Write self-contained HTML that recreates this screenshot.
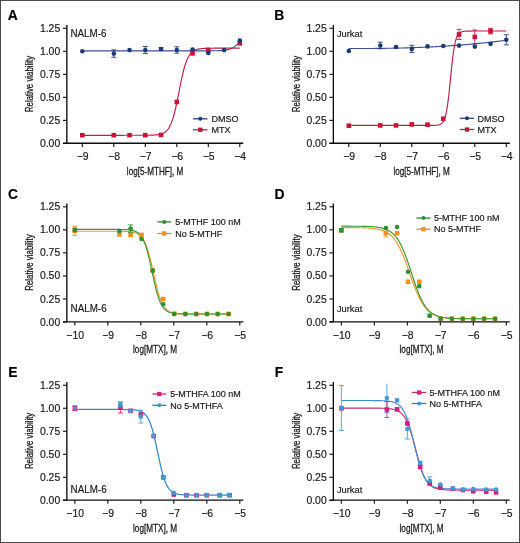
<!DOCTYPE html>
<html><head><meta charset="utf-8"><title>Figure</title>
<style>
html,body{margin:0;padding:0;background:#fff;}
body{width:520px;height:543px;overflow:hidden;}
svg{display:block;font-family:"Liberation Sans", sans-serif;-webkit-font-smoothing:antialiased;will-change:transform;}
text{stroke:#1a1a1a;stroke-width:0.18;}
.cond{stroke:#1a1a1a;stroke-width:0.28;}
</style></head>
<body>
<svg width="520" height="543" viewBox="0 0 520 543">
<rect x="0" y="0" width="520" height="543" fill="#fff"/>
<text x="7.80" y="19.90" font-size="13.9" font-weight="bold" fill="#000">A</text>
<path d="M66.85,24.98V143.40" stroke="#0d0d0d" stroke-width="1.35" fill="none"/>
<path d="M62.95,143.20H243.30" stroke="#0d0d0d" stroke-width="1.35" fill="none"/>
<path d="M62.95,143.40H66.85" stroke="#0d0d0d" stroke-width="1.1"/>
<text x="60.20" y="146.95" font-size="10.4" text-anchor="end" fill="#1a1a1a">0.00</text>
<path d="M62.95,120.38H66.85" stroke="#0d0d0d" stroke-width="1.1"/>
<text x="60.20" y="123.92" font-size="10.4" text-anchor="end" fill="#1a1a1a">0.25</text>
<path d="M62.95,97.35H66.85" stroke="#0d0d0d" stroke-width="1.1"/>
<text x="60.20" y="100.90" font-size="10.4" text-anchor="end" fill="#1a1a1a">0.50</text>
<path d="M62.95,74.33H66.85" stroke="#0d0d0d" stroke-width="1.1"/>
<text x="60.20" y="77.88" font-size="10.4" text-anchor="end" fill="#1a1a1a">0.75</text>
<path d="M62.95,51.30H66.85" stroke="#0d0d0d" stroke-width="1.1"/>
<text x="60.20" y="54.85" font-size="10.4" text-anchor="end" fill="#1a1a1a">1.00</text>
<path d="M62.95,28.28H66.85" stroke="#0d0d0d" stroke-width="1.1"/>
<text x="60.20" y="31.83" font-size="10.4" text-anchor="end" fill="#1a1a1a">1.25</text>
<path d="M82.30,143.40V146.90" stroke="#0d0d0d" stroke-width="1.1"/>
<text x="82.60" y="159.70" font-size="10.4" text-anchor="middle" fill="#1a1a1a">−9</text>
<path d="M113.80,143.40V146.90" stroke="#0d0d0d" stroke-width="1.1"/>
<text x="114.10" y="159.70" font-size="10.4" text-anchor="middle" fill="#1a1a1a">−8</text>
<path d="M145.30,143.40V146.90" stroke="#0d0d0d" stroke-width="1.1"/>
<text x="145.60" y="159.70" font-size="10.4" text-anchor="middle" fill="#1a1a1a">−7</text>
<path d="M176.80,143.40V146.90" stroke="#0d0d0d" stroke-width="1.1"/>
<text x="177.10" y="159.70" font-size="10.4" text-anchor="middle" fill="#1a1a1a">−6</text>
<path d="M208.30,143.40V146.90" stroke="#0d0d0d" stroke-width="1.1"/>
<text x="208.60" y="159.70" font-size="10.4" text-anchor="middle" fill="#1a1a1a">−5</text>
<path d="M239.80,143.40V146.90" stroke="#0d0d0d" stroke-width="1.1"/>
<text x="240.10" y="159.70" font-size="10.4" text-anchor="middle" fill="#1a1a1a">−4</text>
<text x="155.07" y="174.60" font-size="10.3" text-anchor="middle" textLength="56.4" lengthAdjust="spacingAndGlyphs" fill="#1a1a1a" class="cond">log[5-MTHF], M</text>
<text transform="translate(33.00,83.99) rotate(-90)" x="0" y="0" font-size="10.3" text-anchor="middle" textLength="56.3" lengthAdjust="spacingAndGlyphs" fill="#1a1a1a" class="cond">Relative viability</text>
<text x="70.40" y="37.20" font-size="10.4" fill="#1a1a1a" textLength="36.0" lengthAdjust="spacingAndGlyphs">NALM-6</text>
<polyline points="82.30,50.84 82.83,50.84 83.35,50.84 83.88,50.84 84.40,50.84 84.93,50.84 85.45,50.84 85.98,50.84 86.50,50.84 87.03,50.84 87.55,50.84 88.08,50.84 88.60,50.84 89.12,50.84 89.65,50.84 90.17,50.84 90.70,50.84 91.22,50.84 91.75,50.84 92.27,50.84 92.80,50.84 93.32,50.84 93.85,50.84 94.37,50.84 94.90,50.84 95.42,50.84 95.95,50.84 96.47,50.84 97.00,50.84 97.52,50.84 98.05,50.84 98.58,50.84 99.10,50.84 99.63,50.84 100.15,50.84 100.68,50.84 101.20,50.84 101.73,50.84 102.25,50.84 102.78,50.84 103.30,50.84 103.83,50.84 104.35,50.84 104.88,50.84 105.40,50.84 105.92,50.84 106.45,50.84 106.97,50.84 107.50,50.84 108.02,50.84 108.55,50.84 109.07,50.84 109.60,50.84 110.12,50.84 110.65,50.84 111.17,50.84 111.70,50.84 112.22,50.84 112.75,50.84 113.27,50.84 113.80,50.84 114.32,50.84 114.85,50.84 115.38,50.84 115.90,50.84 116.42,50.84 116.95,50.84 117.48,50.84 118.00,50.84 118.53,50.84 119.05,50.84 119.58,50.84 120.10,50.84 120.62,50.84 121.15,50.84 121.67,50.84 122.20,50.84 122.72,50.84 123.25,50.84 123.77,50.84 124.30,50.84 124.82,50.84 125.35,50.84 125.87,50.84 126.40,50.84 126.93,50.84 127.45,50.84 127.97,50.84 128.50,50.84 129.03,50.84 129.55,50.84 130.07,50.84 130.60,50.84 131.12,50.84 131.65,50.84 132.17,50.84 132.70,50.84 133.23,50.84 133.75,50.84 134.28,50.84 134.80,50.84 135.32,50.84 135.85,50.84 136.38,50.84 136.90,50.84 137.43,50.84 137.95,50.84 138.47,50.84 139.00,50.84 139.52,50.84 140.05,50.84 140.57,50.84 141.10,50.84 141.62,50.84 142.15,50.84 142.68,50.84 143.20,50.84 143.72,50.84 144.25,50.84 144.78,50.84 145.30,50.84 145.82,50.84 146.35,50.84 146.88,50.84 147.40,50.84 147.93,50.84 148.45,50.84 148.98,50.84 149.50,50.84 150.03,50.84 150.55,50.84 151.07,50.84 151.60,50.84 152.12,50.84 152.65,50.84 153.18,50.84 153.70,50.84 154.22,50.84 154.75,50.84 155.27,50.84 155.80,50.84 156.32,50.84 156.85,50.84 157.38,50.84 157.90,50.84 158.42,50.84 158.95,50.84 159.48,50.84 160.00,50.84 160.53,50.84 161.05,50.84 161.57,50.84 162.10,50.84 162.62,50.84 163.15,50.84 163.68,50.84 164.20,50.84 164.73,50.84 165.25,50.84 165.78,50.84 166.30,50.84 166.82,50.84 167.35,50.84 167.88,50.84 168.40,50.84 168.93,50.84 169.45,50.84 169.97,50.84 170.50,50.84 171.02,50.84 171.55,50.84 172.07,50.84 172.60,50.84 173.12,50.84 173.65,50.84 174.17,50.84 174.70,50.84 175.23,50.84 175.75,50.84 176.28,50.84 176.80,50.84 177.32,50.84 177.85,50.84 178.38,50.84 178.90,50.84 179.43,50.84 179.95,50.84 180.48,50.84 181.00,50.84 181.53,50.84 182.05,50.84 182.57,50.84 183.10,50.84 183.62,50.84 184.15,50.84 184.68,50.84 185.20,50.84 185.72,50.84 186.25,50.84 186.77,50.84 187.30,50.84 187.82,50.84 188.35,50.84 188.88,50.84 189.40,50.84 189.92,50.84 190.45,50.84 190.98,50.84 191.50,50.84 192.03,50.84 192.55,50.84 193.07,50.84 193.60,50.84 194.12,50.84 194.65,50.84 195.18,50.84 195.70,50.84 196.23,50.84 196.75,50.84 197.28,50.84 197.80,50.84 198.32,50.84 198.85,50.84 199.38,50.84 199.90,50.84 200.43,50.84 200.95,50.84 201.47,50.84 202.00,50.83 202.52,50.83 203.05,50.83 203.57,50.83 204.10,50.83 204.62,50.83 205.15,50.83 205.67,50.83 206.20,50.83 206.73,50.83 207.25,50.83 207.78,50.82 208.30,50.82 208.82,50.82 209.35,50.82 209.88,50.81 210.40,50.81 210.93,50.81 211.45,50.80 211.97,50.80 212.50,50.79 213.03,50.79 213.55,50.78 214.07,50.78 214.60,50.77 215.12,50.76 215.65,50.75 216.18,50.74 216.70,50.73 217.22,50.71 217.75,50.70 218.27,50.68 218.80,50.66 219.32,50.64 219.85,50.62 220.38,50.59 220.90,50.56 221.43,50.53 221.95,50.49 222.48,50.45 223.00,50.40 223.52,50.35 224.05,50.29 224.57,50.22 225.10,50.15 225.62,50.07 226.15,49.98 226.68,49.88 227.20,49.77 227.72,49.65 228.25,49.52 228.78,49.37 229.30,49.21 229.82,49.03 230.35,48.83 230.88,48.62 231.40,48.38 231.93,48.13 232.45,47.85 232.97,47.55 233.50,47.23 234.02,46.89 234.55,46.52 235.07,46.14 235.60,45.73 236.12,45.29 236.65,44.84 237.18,44.38 237.70,43.89 238.23,43.40 238.75,42.89 239.27,42.38 239.80,41.86" fill="none" stroke="#3d5293" stroke-width="1.15" stroke-linejoin="round"/>
<polyline points="82.30,135.30 82.83,135.30 83.35,135.30 83.88,135.30 84.40,135.30 84.93,135.30 85.45,135.30 85.98,135.30 86.50,135.30 87.03,135.30 87.55,135.30 88.08,135.30 88.60,135.30 89.12,135.30 89.65,135.30 90.17,135.30 90.70,135.30 91.22,135.30 91.75,135.30 92.27,135.30 92.80,135.30 93.32,135.30 93.85,135.30 94.37,135.30 94.90,135.30 95.42,135.30 95.95,135.30 96.47,135.30 97.00,135.30 97.52,135.30 98.05,135.30 98.58,135.30 99.10,135.30 99.63,135.30 100.15,135.30 100.68,135.30 101.20,135.30 101.73,135.30 102.25,135.30 102.78,135.30 103.30,135.30 103.83,135.30 104.35,135.30 104.88,135.30 105.40,135.30 105.92,135.30 106.45,135.30 106.97,135.30 107.50,135.30 108.02,135.30 108.55,135.30 109.07,135.30 109.60,135.30 110.12,135.30 110.65,135.30 111.17,135.30 111.70,135.30 112.22,135.30 112.75,135.30 113.27,135.30 113.80,135.30 114.32,135.30 114.85,135.30 115.38,135.30 115.90,135.30 116.42,135.30 116.95,135.30 117.48,135.30 118.00,135.30 118.53,135.30 119.05,135.30 119.58,135.30 120.10,135.30 120.62,135.30 121.15,135.30 121.67,135.30 122.20,135.30 122.72,135.30 123.25,135.30 123.77,135.29 124.30,135.29 124.82,135.29 125.35,135.29 125.87,135.29 126.40,135.29 126.93,135.29 127.45,135.29 127.97,135.29 128.50,135.29 129.03,135.29 129.55,135.29 130.07,135.29 130.60,135.29 131.12,135.29 131.65,135.29 132.17,135.29 132.70,135.29 133.23,135.29 133.75,135.29 134.28,135.29 134.80,135.29 135.32,135.29 135.85,135.29 136.38,135.29 136.90,135.29 137.43,135.29 137.95,135.29 138.47,135.29 139.00,135.29 139.52,135.29 140.05,135.29 140.57,135.28 141.10,135.28 141.62,135.28 142.15,135.28 142.68,135.28 143.20,135.28 143.72,135.27 144.25,135.27 144.78,135.27 145.30,135.26 145.82,135.26 146.35,135.25 146.88,135.25 147.40,135.24 147.93,135.23 148.45,135.23 148.98,135.22 149.50,135.21 150.03,135.20 150.55,135.18 151.07,135.17 151.60,135.15 152.12,135.13 152.65,135.11 153.18,135.09 153.70,135.06 154.22,135.03 154.75,135.00 155.27,134.96 155.80,134.91 156.32,134.86 156.85,134.81 157.38,134.75 157.90,134.67 158.42,134.59 158.95,134.50 159.48,134.40 160.00,134.28 160.53,134.15 161.05,134.01 161.57,133.84 162.10,133.66 162.62,133.45 163.15,133.21 163.68,132.95 164.20,132.65 164.73,132.31 165.25,131.94 165.78,131.52 166.30,131.05 166.82,130.53 167.35,129.94 167.88,129.29 168.40,128.57 168.93,127.76 169.45,126.87 169.97,125.89 170.50,124.81 171.02,123.63 171.55,122.33 172.07,120.91 172.60,119.38 173.12,117.72 173.65,115.93 174.17,114.02 174.70,111.98 175.23,109.83 175.75,107.56 176.28,105.19 176.80,102.72 177.32,100.18 177.85,97.58 178.38,94.94 178.90,92.27 179.43,89.59 179.95,86.94 180.48,84.32 181.00,81.75 181.53,79.25 182.05,76.84 182.57,74.53 183.10,72.33 183.62,70.24 184.15,68.28 184.68,66.45 185.20,64.73 185.72,63.15 186.25,61.69 186.77,60.34 187.30,59.11 187.82,57.99 188.35,56.97 188.88,56.05 189.40,55.21 189.92,54.45 190.45,53.77 190.98,53.16 191.50,52.62 192.03,52.13 192.55,51.69 193.07,51.29 193.60,50.94 194.12,50.63 194.65,50.36 195.18,50.11 195.70,49.89 196.23,49.69 196.75,49.52 197.28,49.37 197.80,49.23 198.32,49.11 198.85,49.00 199.38,48.91 199.90,48.82 200.43,48.75 200.95,48.68 201.47,48.62 202.00,48.57 202.52,48.52 203.05,48.48 203.57,48.45 204.10,48.41 204.62,48.39 205.15,48.36 205.67,48.34 206.20,48.32 206.73,48.30 207.25,48.29 207.78,48.27 208.30,48.26 208.82,48.25 209.35,48.24 209.88,48.23 210.40,48.22 210.93,48.22 211.45,48.21 211.97,48.21 212.50,48.20 213.03,48.20 213.55,48.20 214.07,48.19 214.60,48.19 215.12,48.19 215.65,48.19 216.18,48.18 216.70,48.18 217.22,48.18 217.75,48.18 218.27,48.18 218.80,48.18 219.32,48.18 219.85,48.17 220.38,48.17 220.90,48.17 221.43,48.17 221.95,48.17 222.48,48.17 223.00,48.17 223.52,48.17 224.05,48.17 224.57,48.17 225.10,48.17 225.62,48.17 226.15,48.17 226.68,48.17 227.20,48.17 227.72,48.17 228.25,48.17 228.78,48.17 229.30,48.17 229.82,48.17 230.35,48.17 230.88,48.17 231.40,48.17 231.93,48.17 232.45,48.17 232.97,48.17 233.50,48.17 234.02,48.17 234.55,48.17 235.07,48.17 235.60,48.17 236.12,48.17 236.65,48.17 237.18,48.17 237.70,48.17 238.23,48.17 238.75,48.17 239.27,48.17 239.80,48.17" fill="none" stroke="#bc1f45" stroke-width="1.15" stroke-linejoin="round"/>
<rect x="80.00" y="132.90" width="4.6" height="4.6" fill="#c8143a"/>
<rect x="111.50" y="132.90" width="4.6" height="4.6" fill="#c8143a"/>
<rect x="127.25" y="132.90" width="4.6" height="4.6" fill="#c8143a"/>
<rect x="143.00" y="132.90" width="4.6" height="4.6" fill="#c8143a"/>
<rect x="158.75" y="132.63" width="4.6" height="4.6" fill="#c8143a"/>
<rect x="174.50" y="99.66" width="4.6" height="4.6" fill="#c8143a"/>
<rect x="190.25" y="51.12" width="4.6" height="4.6" fill="#c8143a"/>
<rect x="206.00" y="47.62" width="4.6" height="4.6" fill="#c8143a"/>
<rect x="237.50" y="41.08" width="4.6" height="4.6" fill="#c8143a"/>
<circle cx="82.30" cy="51.30" r="2.3" fill="#1c3a72"/>
<path d="M113.80,57.29V49.92M111.30,57.29H116.30M111.30,49.92H116.30" stroke="#1c3a72" stroke-width="0.85" fill="none"/>
<circle cx="113.80" cy="53.60" r="2.3" fill="#1c3a72"/>
<circle cx="129.55" cy="50.10" r="2.3" fill="#1c3a72"/>
<path d="M145.30,53.51V46.51M142.80,53.51H147.80M142.80,46.51H147.80" stroke="#1c3a72" stroke-width="0.85" fill="none"/>
<circle cx="145.30" cy="50.01" r="2.3" fill="#1c3a72"/>
<path d="M161.05,50.38V47.62M158.55,50.38H163.55M158.55,47.62H163.55" stroke="#1c3a72" stroke-width="0.85" fill="none"/>
<circle cx="161.05" cy="49.00" r="2.3" fill="#1c3a72"/>
<path d="M176.80,53.23V46.79M174.30,53.23H179.30M174.30,46.79H179.30" stroke="#1c3a72" stroke-width="0.85" fill="none"/>
<circle cx="176.80" cy="50.01" r="2.3" fill="#1c3a72"/>
<circle cx="192.55" cy="49.46" r="2.3" fill="#1c3a72"/>
<circle cx="208.30" cy="52.96" r="2.3" fill="#1c3a72"/>
<circle cx="224.05" cy="50.10" r="2.3" fill="#1c3a72"/>
<circle cx="239.80" cy="40.62" r="2.3" fill="#1c3a72"/>
<path d="M193.10,118.80H207.50" stroke="#2a4580" stroke-width="1.3"/>
<circle cx="200.30" cy="118.80" r="2.0" fill="#1c3a72"/>
<text x="211.60" y="122.00" font-size="9" fill="#1a1a1a">DMSO</text>
<path d="M193.10,129.80H207.50" stroke="#bc1f45" stroke-width="1.3"/>
<rect x="198.15" y="127.65" width="4.3" height="4.3" fill="#c8143a"/>
<text x="211.60" y="133.00" font-size="9" fill="#1a1a1a">MTX</text>
<text x="274.30" y="19.90" font-size="13.9" font-weight="bold" fill="#000">B</text>
<path d="M333.35,24.98V143.40" stroke="#0d0d0d" stroke-width="1.35" fill="none"/>
<path d="M329.45,143.20H509.80" stroke="#0d0d0d" stroke-width="1.35" fill="none"/>
<path d="M329.45,143.40H333.35" stroke="#0d0d0d" stroke-width="1.1"/>
<text x="326.70" y="146.95" font-size="10.4" text-anchor="end" fill="#1a1a1a">0.00</text>
<path d="M329.45,120.38H333.35" stroke="#0d0d0d" stroke-width="1.1"/>
<text x="326.70" y="123.92" font-size="10.4" text-anchor="end" fill="#1a1a1a">0.25</text>
<path d="M329.45,97.35H333.35" stroke="#0d0d0d" stroke-width="1.1"/>
<text x="326.70" y="100.90" font-size="10.4" text-anchor="end" fill="#1a1a1a">0.50</text>
<path d="M329.45,74.33H333.35" stroke="#0d0d0d" stroke-width="1.1"/>
<text x="326.70" y="77.88" font-size="10.4" text-anchor="end" fill="#1a1a1a">0.75</text>
<path d="M329.45,51.30H333.35" stroke="#0d0d0d" stroke-width="1.1"/>
<text x="326.70" y="54.85" font-size="10.4" text-anchor="end" fill="#1a1a1a">1.00</text>
<path d="M329.45,28.28H333.35" stroke="#0d0d0d" stroke-width="1.1"/>
<text x="326.70" y="31.83" font-size="10.4" text-anchor="end" fill="#1a1a1a">1.25</text>
<path d="M348.80,143.40V146.90" stroke="#0d0d0d" stroke-width="1.1"/>
<text x="349.10" y="159.70" font-size="10.4" text-anchor="middle" fill="#1a1a1a">−9</text>
<path d="M380.30,143.40V146.90" stroke="#0d0d0d" stroke-width="1.1"/>
<text x="380.60" y="159.70" font-size="10.4" text-anchor="middle" fill="#1a1a1a">−8</text>
<path d="M411.80,143.40V146.90" stroke="#0d0d0d" stroke-width="1.1"/>
<text x="412.10" y="159.70" font-size="10.4" text-anchor="middle" fill="#1a1a1a">−7</text>
<path d="M443.30,143.40V146.90" stroke="#0d0d0d" stroke-width="1.1"/>
<text x="443.60" y="159.70" font-size="10.4" text-anchor="middle" fill="#1a1a1a">−6</text>
<path d="M474.80,143.40V146.90" stroke="#0d0d0d" stroke-width="1.1"/>
<text x="475.10" y="159.70" font-size="10.4" text-anchor="middle" fill="#1a1a1a">−5</text>
<path d="M506.30,143.40V146.90" stroke="#0d0d0d" stroke-width="1.1"/>
<text x="506.60" y="159.70" font-size="10.4" text-anchor="middle" fill="#1a1a1a">−4</text>
<text x="421.58" y="174.60" font-size="10.3" text-anchor="middle" textLength="56.4" lengthAdjust="spacingAndGlyphs" fill="#1a1a1a" class="cond">log[5-MTHF], M</text>
<text transform="translate(299.50,83.99) rotate(-90)" x="0" y="0" font-size="10.3" text-anchor="middle" textLength="56.3" lengthAdjust="spacingAndGlyphs" fill="#1a1a1a" class="cond">Relative viability</text>
<text x="336.90" y="37.00" font-size="9.9" fill="#1a1a1a" textLength="25.4" lengthAdjust="spacingAndGlyphs">Jurkat</text>
<polyline points="348.80,48.54 349.33,48.54 349.85,48.54 350.38,48.54 350.90,48.54 351.43,48.54 351.95,48.54 352.48,48.54 353.00,48.54 353.53,48.54 354.05,48.54 354.58,48.53 355.10,48.53 355.62,48.53 356.15,48.53 356.68,48.53 357.20,48.53 357.73,48.53 358.25,48.53 358.77,48.53 359.30,48.53 359.82,48.53 360.35,48.52 360.88,48.52 361.40,48.52 361.93,48.52 362.45,48.52 362.97,48.52 363.50,48.51 364.02,48.51 364.55,48.51 365.08,48.51 365.60,48.51 366.13,48.50 366.65,48.50 367.18,48.50 367.70,48.50 368.23,48.49 368.75,48.49 369.28,48.49 369.80,48.48 370.33,48.48 370.85,48.48 371.38,48.47 371.90,48.47 372.43,48.46 372.95,48.46 373.48,48.46 374.00,48.45 374.52,48.45 375.05,48.44 375.57,48.44 376.10,48.43 376.62,48.43 377.15,48.42 377.68,48.42 378.20,48.41 378.72,48.41 379.25,48.40 379.77,48.39 380.30,48.39 380.82,48.38 381.35,48.38 381.88,48.37 382.40,48.36 382.93,48.36 383.45,48.35 383.98,48.34 384.50,48.33 385.03,48.33 385.55,48.32 386.08,48.31 386.60,48.30 387.12,48.29 387.65,48.29 388.18,48.28 388.70,48.27 389.23,48.26 389.75,48.25 390.27,48.24 390.80,48.23 391.32,48.22 391.85,48.21 392.38,48.20 392.90,48.19 393.43,48.18 393.95,48.17 394.48,48.16 395.00,48.15 395.53,48.14 396.05,48.13 396.57,48.12 397.10,48.11 397.62,48.09 398.15,48.08 398.68,48.07 399.20,48.06 399.73,48.04 400.25,48.03 400.78,48.02 401.30,48.01 401.83,47.99 402.35,47.98 402.88,47.96 403.40,47.95 403.93,47.94 404.45,47.92 404.98,47.91 405.50,47.89 406.02,47.88 406.55,47.86 407.07,47.85 407.60,47.83 408.12,47.82 408.65,47.80 409.18,47.78 409.70,47.77 410.23,47.75 410.75,47.73 411.28,47.72 411.80,47.70 412.32,47.68 412.85,47.66 413.38,47.64 413.90,47.63 414.43,47.61 414.95,47.59 415.48,47.57 416.00,47.55 416.53,47.53 417.05,47.51 417.58,47.49 418.10,47.47 418.62,47.45 419.15,47.43 419.68,47.41 420.20,47.39 420.73,47.37 421.25,47.35 421.77,47.33 422.30,47.30 422.82,47.28 423.35,47.26 423.88,47.24 424.40,47.21 424.93,47.19 425.45,47.17 425.98,47.14 426.50,47.12 427.03,47.10 427.55,47.07 428.07,47.05 428.60,47.02 429.12,47.00 429.65,46.97 430.18,46.95 430.70,46.92 431.23,46.89 431.75,46.87 432.28,46.84 432.80,46.82 433.33,46.79 433.85,46.76 434.38,46.73 434.90,46.71 435.43,46.68 435.95,46.65 436.48,46.62 437.00,46.59 437.52,46.56 438.05,46.53 438.57,46.50 439.10,46.47 439.62,46.44 440.15,46.41 440.68,46.38 441.20,46.35 441.73,46.32 442.25,46.29 442.78,46.26 443.30,46.23 443.82,46.19 444.35,46.16 444.88,46.13 445.40,46.10 445.93,46.06 446.45,46.03 446.98,45.99 447.50,45.96 448.03,45.93 448.55,45.89 449.08,45.86 449.60,45.82 450.12,45.79 450.65,45.75 451.18,45.71 451.70,45.68 452.23,45.64 452.75,45.60 453.27,45.57 453.80,45.53 454.32,45.49 454.85,45.45 455.38,45.41 455.90,45.38 456.43,45.34 456.95,45.30 457.48,45.26 458.00,45.22 458.53,45.18 459.05,45.14 459.57,45.10 460.10,45.06 460.62,45.02 461.15,44.97 461.68,44.93 462.20,44.89 462.73,44.85 463.25,44.81 463.78,44.76 464.30,44.72 464.83,44.68 465.35,44.63 465.88,44.59 466.40,44.54 466.93,44.50 467.45,44.45 467.98,44.41 468.50,44.36 469.02,44.32 469.55,44.27 470.07,44.22 470.60,44.18 471.12,44.13 471.65,44.08 472.18,44.04 472.70,43.99 473.23,43.94 473.75,43.89 474.28,43.84 474.80,43.79 475.32,43.74 475.85,43.69 476.38,43.64 476.90,43.59 477.43,43.54 477.95,43.49 478.48,43.44 479.00,43.39 479.53,43.33 480.05,43.28 480.58,43.23 481.10,43.18 481.62,43.12 482.15,43.07 482.68,43.02 483.20,42.96 483.73,42.91 484.25,42.85 484.77,42.80 485.30,42.74 485.82,42.69 486.35,42.63 486.88,42.57 487.40,42.52 487.93,42.46 488.45,42.40 488.98,42.34 489.50,42.28 490.02,42.23 490.55,42.17 491.08,42.11 491.60,42.05 492.12,41.99 492.65,41.93 493.18,41.87 493.70,41.81 494.23,41.75 494.75,41.69 495.28,41.62 495.80,41.56 496.33,41.50 496.85,41.44 497.38,41.37 497.90,41.31 498.43,41.25 498.95,41.18 499.48,41.12 500.00,41.05 500.52,40.99 501.05,40.92 501.57,40.86 502.10,40.79 502.62,40.72 503.15,40.66 503.68,40.59 504.20,40.52 504.73,40.45 505.25,40.39 505.77,40.32 506.30,40.25" fill="none" stroke="#3d5293" stroke-width="1.15" stroke-linejoin="round"/>
<polyline points="348.80,125.44 349.33,125.44 349.85,125.44 350.38,125.44 350.90,125.44 351.43,125.44 351.95,125.44 352.48,125.44 353.00,125.44 353.53,125.44 354.05,125.44 354.58,125.44 355.10,125.44 355.62,125.44 356.15,125.44 356.68,125.44 357.20,125.44 357.73,125.44 358.25,125.44 358.77,125.44 359.30,125.44 359.82,125.44 360.35,125.44 360.88,125.44 361.40,125.44 361.93,125.44 362.45,125.44 362.97,125.44 363.50,125.44 364.02,125.44 364.55,125.44 365.08,125.44 365.60,125.44 366.13,125.44 366.65,125.44 367.18,125.44 367.70,125.44 368.23,125.44 368.75,125.44 369.28,125.44 369.80,125.44 370.33,125.44 370.85,125.44 371.38,125.44 371.90,125.44 372.43,125.44 372.95,125.44 373.48,125.44 374.00,125.44 374.52,125.44 375.05,125.44 375.57,125.44 376.10,125.44 376.62,125.44 377.15,125.44 377.68,125.44 378.20,125.44 378.72,125.44 379.25,125.44 379.77,125.44 380.30,125.44 380.82,125.44 381.35,125.44 381.88,125.44 382.40,125.44 382.93,125.44 383.45,125.44 383.98,125.44 384.50,125.44 385.03,125.44 385.55,125.44 386.08,125.44 386.60,125.44 387.12,125.44 387.65,125.44 388.18,125.44 388.70,125.44 389.23,125.44 389.75,125.44 390.27,125.44 390.80,125.44 391.32,125.44 391.85,125.44 392.38,125.44 392.90,125.44 393.43,125.44 393.95,125.44 394.48,125.44 395.00,125.44 395.53,125.44 396.05,125.44 396.57,125.44 397.10,125.44 397.62,125.44 398.15,125.44 398.68,125.44 399.20,125.44 399.73,125.44 400.25,125.44 400.78,125.44 401.30,125.44 401.83,125.44 402.35,125.44 402.88,125.44 403.40,125.44 403.93,125.44 404.45,125.44 404.98,125.44 405.50,125.44 406.02,125.44 406.55,125.44 407.07,125.44 407.60,125.44 408.12,125.44 408.65,125.44 409.18,125.44 409.70,125.44 410.23,125.44 410.75,125.44 411.28,125.44 411.80,125.44 412.32,125.44 412.85,125.44 413.38,125.44 413.90,125.44 414.43,125.44 414.95,125.44 415.48,125.44 416.00,125.44 416.53,125.44 417.05,125.44 417.58,125.44 418.10,125.44 418.62,125.44 419.15,125.44 419.68,125.44 420.20,125.44 420.73,125.44 421.25,125.44 421.77,125.44 422.30,125.44 422.82,125.44 423.35,125.44 423.88,125.44 424.40,125.44 424.93,125.44 425.45,125.44 425.98,125.44 426.50,125.44 427.03,125.44 427.55,125.44 428.07,125.43 428.60,125.43 429.12,125.43 429.65,125.43 430.18,125.43 430.70,125.42 431.23,125.42 431.75,125.41 432.28,125.40 432.80,125.40 433.33,125.38 433.85,125.37 434.38,125.35 434.90,125.33 435.43,125.30 435.95,125.27 436.48,125.22 437.00,125.17 437.52,125.10 438.05,125.01 438.57,124.90 439.10,124.77 439.62,124.60 440.15,124.39 440.68,124.12 441.20,123.79 441.73,123.38 442.25,122.87 442.78,122.24 443.30,121.47 443.82,120.51 444.35,119.34 444.88,117.91 445.40,116.18 445.93,114.11 446.45,111.65 446.98,108.77 447.50,105.43 448.03,101.63 448.55,97.38 449.08,92.72 449.60,87.73 450.12,82.50 450.65,77.17 451.18,71.87 451.70,66.72 452.23,61.85 452.75,57.35 453.27,53.27 453.80,49.66 454.32,46.50 454.85,43.79 455.38,41.49 455.90,39.57 456.43,37.97 456.95,36.64 457.48,35.56 458.00,34.68 458.53,33.97 459.05,33.39 459.57,32.92 460.10,32.55 460.62,32.24 461.15,32.00 461.68,31.81 462.20,31.65 462.73,31.53 463.25,31.43 463.78,31.35 464.30,31.29 464.83,31.24 465.35,31.20 465.88,31.16 466.40,31.14 466.93,31.12 467.45,31.10 467.98,31.09 468.50,31.08 469.02,31.07 469.55,31.06 470.07,31.06 470.60,31.05 471.12,31.05 471.65,31.05 472.18,31.05 472.70,31.04 473.23,31.04 473.75,31.04 474.28,31.04 474.80,31.04 475.32,31.04 475.85,31.04 476.38,31.04 476.90,31.04 477.43,31.04 477.95,31.04 478.48,31.04 479.00,31.04 479.53,31.04 480.05,31.04 480.58,31.04 481.10,31.04 481.62,31.04 482.15,31.04 482.68,31.04 483.20,31.04 483.73,31.04 484.25,31.04 484.77,31.04 485.30,31.04 485.82,31.04 486.35,31.04 486.88,31.04 487.40,31.04 487.93,31.04 488.45,31.04 488.98,31.04 489.50,31.04 490.02,31.04 490.55,31.04 491.08,31.04 491.60,31.04 492.12,31.04 492.65,31.04 493.18,31.04 493.70,31.04 494.23,31.04 494.75,31.04 495.28,31.04 495.80,31.04 496.33,31.04 496.85,31.04 497.38,31.04 497.90,31.04 498.43,31.04 498.95,31.04 499.48,31.04 500.00,31.04 500.52,31.04 501.05,31.04 501.57,31.04 502.10,31.04 502.62,31.04 503.15,31.04 503.68,31.04 504.20,31.04 504.73,31.04 505.25,31.04 505.77,31.04 506.30,31.04" fill="none" stroke="#bc1f45" stroke-width="1.15" stroke-linejoin="round"/>
<rect x="346.50" y="123.42" width="4.6" height="4.6" fill="#c8143a"/>
<rect x="378.00" y="123.14" width="4.6" height="4.6" fill="#c8143a"/>
<rect x="393.75" y="123.14" width="4.6" height="4.6" fill="#c8143a"/>
<rect x="409.50" y="122.13" width="4.6" height="4.6" fill="#c8143a"/>
<rect x="425.25" y="122.40" width="4.6" height="4.6" fill="#c8143a"/>
<rect x="441.00" y="116.42" width="4.6" height="4.6" fill="#c8143a"/>
<path d="M459.05,39.51V29.38M456.55,39.51H461.55M456.55,29.38H461.55" stroke="#c8143a" stroke-width="0.85" fill="none"/>
<rect x="456.75" y="32.15" width="4.6" height="4.6" fill="#c8143a"/>
<path d="M474.80,43.84V30.02M472.30,43.84H477.30M472.30,30.02H477.30" stroke="#c8143a" stroke-width="0.85" fill="none"/>
<rect x="472.50" y="34.63" width="4.6" height="4.6" fill="#c8143a"/>
<path d="M490.55,33.89V28.37M488.05,33.89H493.05M488.05,28.37H493.05" stroke="#c8143a" stroke-width="0.85" fill="none"/>
<rect x="488.25" y="28.83" width="4.6" height="4.6" fill="#c8143a"/>
<circle cx="348.80" cy="50.93" r="2.3" fill="#1c3a72"/>
<path d="M380.30,48.81V42.18M377.80,48.81H382.80M377.80,42.18H382.80" stroke="#1c3a72" stroke-width="0.85" fill="none"/>
<circle cx="380.30" cy="45.50" r="2.3" fill="#1c3a72"/>
<circle cx="396.05" cy="46.97" r="2.3" fill="#1c3a72"/>
<path d="M411.80,52.59V45.22M409.30,52.59H414.30M409.30,45.22H414.30" stroke="#1c3a72" stroke-width="0.85" fill="none"/>
<circle cx="411.80" cy="48.91" r="2.3" fill="#1c3a72"/>
<circle cx="427.55" cy="46.42" r="2.3" fill="#1c3a72"/>
<circle cx="443.30" cy="46.05" r="2.3" fill="#1c3a72"/>
<circle cx="459.05" cy="45.59" r="2.3" fill="#1c3a72"/>
<circle cx="474.80" cy="46.60" r="2.3" fill="#1c3a72"/>
<circle cx="490.55" cy="43.84" r="2.3" fill="#1c3a72"/>
<path d="M506.30,44.85V34.72M503.80,44.85H508.80M503.80,34.72H508.80" stroke="#1c3a72" stroke-width="0.85" fill="none"/>
<circle cx="506.30" cy="39.79" r="2.3" fill="#1c3a72"/>
<path d="M459.80,118.30H474.20" stroke="#2a4580" stroke-width="1.3"/>
<circle cx="467.00" cy="118.30" r="2.0" fill="#1c3a72"/>
<text x="477.50" y="121.50" font-size="9" fill="#1a1a1a">DMSO</text>
<path d="M459.80,129.50H474.20" stroke="#bc1f45" stroke-width="1.3"/>
<rect x="464.85" y="127.35" width="4.3" height="4.3" fill="#c8143a"/>
<text x="477.50" y="132.70" font-size="9" fill="#1a1a1a">MTX</text>
<text x="7.90" y="198.70" font-size="13.9" font-weight="bold" fill="#000">C</text>
<path d="M66.85,203.51V322.00" stroke="#0d0d0d" stroke-width="1.35" fill="none"/>
<path d="M62.95,321.80H243.30" stroke="#0d0d0d" stroke-width="1.35" fill="none"/>
<path d="M62.95,322.00H66.85" stroke="#0d0d0d" stroke-width="1.1"/>
<text x="60.20" y="325.55" font-size="10.4" text-anchor="end" fill="#1a1a1a">0.00</text>
<path d="M62.95,298.96H66.85" stroke="#0d0d0d" stroke-width="1.1"/>
<text x="60.20" y="302.51" font-size="10.4" text-anchor="end" fill="#1a1a1a">0.25</text>
<path d="M62.95,275.93H66.85" stroke="#0d0d0d" stroke-width="1.1"/>
<text x="60.20" y="279.48" font-size="10.4" text-anchor="end" fill="#1a1a1a">0.50</text>
<path d="M62.95,252.89H66.85" stroke="#0d0d0d" stroke-width="1.1"/>
<text x="60.20" y="256.44" font-size="10.4" text-anchor="end" fill="#1a1a1a">0.75</text>
<path d="M62.95,229.85H66.85" stroke="#0d0d0d" stroke-width="1.1"/>
<text x="60.20" y="233.40" font-size="10.4" text-anchor="end" fill="#1a1a1a">1.00</text>
<path d="M62.95,206.81H66.85" stroke="#0d0d0d" stroke-width="1.1"/>
<text x="60.20" y="210.36" font-size="10.4" text-anchor="end" fill="#1a1a1a">1.25</text>
<path d="M74.85,322.00V325.50" stroke="#0d0d0d" stroke-width="1.1"/>
<text x="75.15" y="338.80" font-size="10.4" text-anchor="middle" fill="#1a1a1a">−10</text>
<path d="M107.84,322.00V325.50" stroke="#0d0d0d" stroke-width="1.1"/>
<text x="108.14" y="338.80" font-size="10.4" text-anchor="middle" fill="#1a1a1a">−9</text>
<path d="M140.83,322.00V325.50" stroke="#0d0d0d" stroke-width="1.1"/>
<text x="141.13" y="338.80" font-size="10.4" text-anchor="middle" fill="#1a1a1a">−8</text>
<path d="M173.82,322.00V325.50" stroke="#0d0d0d" stroke-width="1.1"/>
<text x="174.12" y="338.80" font-size="10.4" text-anchor="middle" fill="#1a1a1a">−7</text>
<path d="M206.81,322.00V325.50" stroke="#0d0d0d" stroke-width="1.1"/>
<text x="207.11" y="338.80" font-size="10.4" text-anchor="middle" fill="#1a1a1a">−6</text>
<path d="M239.80,322.00V325.50" stroke="#0d0d0d" stroke-width="1.1"/>
<text x="240.10" y="338.80" font-size="10.4" text-anchor="middle" fill="#1a1a1a">−5</text>
<text x="155.07" y="353.30" font-size="10.3" text-anchor="middle" textLength="44.1" lengthAdjust="spacingAndGlyphs" fill="#1a1a1a" class="cond">log[MTX], M</text>
<text transform="translate(33.00,262.56) rotate(-90)" x="0" y="0" font-size="10.3" text-anchor="middle" textLength="56.3" lengthAdjust="spacingAndGlyphs" fill="#1a1a1a" class="cond">Relative viability</text>
<text x="70.60" y="311.60" font-size="10.4" fill="#1a1a1a" textLength="36.0" lengthAdjust="spacingAndGlyphs">NALM-6</text>
<polyline points="74.85,231.23 75.36,231.23 75.87,231.23 76.39,231.23 76.90,231.23 77.41,231.23 77.92,231.23 78.44,231.23 78.95,231.23 79.46,231.23 79.97,231.23 80.49,231.23 81.00,231.23 81.51,231.23 82.02,231.23 82.54,231.23 83.05,231.23 83.56,231.23 84.07,231.23 84.59,231.23 85.10,231.23 85.61,231.23 86.12,231.23 86.64,231.23 87.15,231.23 87.66,231.23 88.17,231.23 88.69,231.23 89.20,231.23 89.71,231.23 90.22,231.23 90.74,231.23 91.25,231.23 91.76,231.23 92.27,231.23 92.79,231.23 93.30,231.23 93.81,231.23 94.32,231.23 94.84,231.23 95.35,231.23 95.86,231.23 96.37,231.23 96.89,231.23 97.40,231.23 97.91,231.23 98.42,231.23 98.93,231.23 99.45,231.23 99.96,231.23 100.47,231.23 100.98,231.23 101.50,231.23 102.01,231.23 102.52,231.23 103.03,231.23 103.55,231.23 104.06,231.23 104.57,231.23 105.08,231.23 105.60,231.23 106.11,231.24 106.62,231.24 107.13,231.24 107.65,231.24 108.16,231.24 108.67,231.24 109.18,231.24 109.70,231.24 110.21,231.24 110.72,231.24 111.23,231.24 111.75,231.24 112.26,231.24 112.77,231.24 113.28,231.25 113.80,231.25 114.31,231.25 114.82,231.25 115.33,231.25 115.85,231.26 116.36,231.26 116.87,231.26 117.38,231.27 117.90,231.27 118.41,231.28 118.92,231.28 119.43,231.29 119.95,231.29 120.46,231.30 120.97,231.31 121.48,231.32 121.99,231.33 122.51,231.34 123.02,231.35 123.53,231.36 124.04,231.38 124.56,231.39 125.07,231.41 125.58,231.43 126.09,231.46 126.61,231.48 127.12,231.51 127.63,231.55 128.14,231.58 128.66,231.62 129.17,231.67 129.68,231.72 130.19,231.78 130.71,231.84 131.22,231.91 131.73,231.99 132.24,232.08 132.76,232.18 133.27,232.29 133.78,232.41 134.29,232.55 134.81,232.70 135.32,232.87 135.83,233.05 136.34,233.26 136.86,233.49 137.37,233.75 137.88,234.04 138.39,234.35 138.91,234.70 139.42,235.09 139.93,235.52 140.44,235.99 140.96,236.52 141.47,237.09 141.98,237.72 142.49,238.42 143.01,239.18 143.52,240.01 144.03,240.92 144.54,241.91 145.05,242.99 145.57,244.15 146.08,245.41 146.59,246.76 147.10,248.20 147.62,249.75 148.13,251.39 148.64,253.13 149.15,254.96 149.67,256.88 150.18,258.88 150.69,260.96 151.20,263.10 151.72,265.30 152.23,267.54 152.74,269.82 153.25,272.11 153.77,274.40 154.28,276.68 154.79,278.94 155.30,281.16 155.82,283.32 156.33,285.43 156.84,287.47 157.35,289.43 157.87,291.30 158.38,293.08 158.89,294.76 159.40,296.35 159.92,297.84 160.43,299.23 160.94,300.53 161.45,301.73 161.97,302.84 162.48,303.87 162.99,304.81 163.50,305.68 164.02,306.47 164.53,307.19 165.04,307.85 165.55,308.45 166.07,309.00 166.58,309.49 167.09,309.94 167.60,310.35 168.11,310.71 168.63,311.05 169.14,311.34 169.65,311.61 170.16,311.86 170.68,312.07 171.19,312.27 171.70,312.45 172.21,312.60 172.73,312.75 173.24,312.88 173.75,312.99 174.26,313.09 174.78,313.19 175.29,313.27 175.80,313.34 176.31,313.41 176.83,313.47 177.34,313.52 177.85,313.57 178.36,313.61 178.88,313.65 179.39,313.69 179.90,313.72 180.41,313.75 180.93,313.77 181.44,313.79 181.95,313.81 182.46,313.83 182.98,313.85 183.49,313.86 184.00,313.87 184.51,313.89 185.03,313.90 185.54,313.90 186.05,313.91 186.56,313.92 187.08,313.93 187.59,313.93 188.10,313.94 188.61,313.94 189.13,313.95 189.64,313.95 190.15,313.95 190.66,313.96 191.17,313.96 191.69,313.96 192.20,313.96 192.71,313.97 193.22,313.97 193.74,313.97 194.25,313.97 194.76,313.97 195.27,313.97 195.79,313.97 196.30,313.98 196.81,313.98 197.32,313.98 197.84,313.98 198.35,313.98 198.86,313.98 199.37,313.98 199.89,313.98 200.40,313.98 200.91,313.98 201.42,313.98 201.94,313.98 202.45,313.98 202.96,313.98 203.47,313.98 203.99,313.98 204.50,313.98 205.01,313.98 205.52,313.98 206.04,313.98 206.55,313.98 207.06,313.98 207.57,313.98 208.09,313.98 208.60,313.98 209.11,313.98 209.62,313.98 210.14,313.98 210.65,313.98 211.16,313.98 211.67,313.98 212.19,313.98 212.70,313.98 213.21,313.98 213.72,313.98 214.23,313.98 214.75,313.98 215.26,313.98 215.77,313.98 216.28,313.98 216.80,313.98 217.31,313.98 217.82,313.98 218.33,313.98 218.85,313.98 219.36,313.98 219.87,313.98 220.38,313.98 220.90,313.98 221.41,313.98 221.92,313.98 222.43,313.98 222.95,313.98 223.46,313.98 223.97,313.98 224.48,313.98 225.00,313.98 225.51,313.98 226.02,313.98 226.53,313.98 227.05,313.98 227.56,313.98 228.07,313.98 228.58,313.98" fill="none" stroke="#ec9a2a" stroke-width="1.15" stroke-linejoin="round"/>
<polyline points="74.85,229.39 75.36,229.39 75.87,229.39 76.39,229.39 76.90,229.39 77.41,229.39 77.92,229.39 78.44,229.39 78.95,229.39 79.46,229.39 79.97,229.39 80.49,229.39 81.00,229.39 81.51,229.39 82.02,229.39 82.54,229.39 83.05,229.39 83.56,229.39 84.07,229.39 84.59,229.39 85.10,229.39 85.61,229.39 86.12,229.39 86.64,229.39 87.15,229.39 87.66,229.39 88.17,229.39 88.69,229.39 89.20,229.39 89.71,229.39 90.22,229.39 90.74,229.39 91.25,229.39 91.76,229.39 92.27,229.39 92.79,229.39 93.30,229.39 93.81,229.39 94.32,229.39 94.84,229.39 95.35,229.39 95.86,229.39 96.37,229.39 96.89,229.39 97.40,229.39 97.91,229.39 98.42,229.39 98.93,229.39 99.45,229.39 99.96,229.39 100.47,229.39 100.98,229.39 101.50,229.39 102.01,229.39 102.52,229.39 103.03,229.39 103.55,229.39 104.06,229.39 104.57,229.39 105.08,229.39 105.60,229.39 106.11,229.39 106.62,229.39 107.13,229.39 107.65,229.39 108.16,229.39 108.67,229.39 109.18,229.40 109.70,229.40 110.21,229.40 110.72,229.40 111.23,229.40 111.75,229.40 112.26,229.40 112.77,229.40 113.28,229.40 113.80,229.41 114.31,229.41 114.82,229.41 115.33,229.41 115.85,229.42 116.36,229.42 116.87,229.42 117.38,229.43 117.90,229.43 118.41,229.44 118.92,229.44 119.43,229.45 119.95,229.45 120.46,229.46 120.97,229.47 121.48,229.48 121.99,229.49 122.51,229.50 123.02,229.52 123.53,229.53 124.04,229.55 124.56,229.57 125.07,229.59 125.58,229.62 126.09,229.65 126.61,229.68 127.12,229.71 127.63,229.75 128.14,229.79 128.66,229.84 129.17,229.90 129.68,229.96 130.19,230.03 130.71,230.10 131.22,230.19 131.73,230.28 132.24,230.39 132.76,230.51 133.27,230.65 133.78,230.80 134.29,230.96 134.81,231.15 135.32,231.36 135.83,231.59 136.34,231.85 136.86,232.14 137.37,232.46 137.88,232.82 138.39,233.22 138.91,233.66 139.42,234.15 139.93,234.69 140.44,235.28 140.96,235.94 141.47,236.67 141.98,237.47 142.49,238.34 143.01,239.30 143.52,240.35 144.03,241.49 144.54,242.72 145.05,244.06 145.57,245.50 146.08,247.05 146.59,248.70 147.10,250.46 147.62,252.32 148.13,254.28 148.64,256.34 149.15,258.48 149.67,260.70 150.18,262.99 150.69,265.34 151.20,267.72 151.72,270.13 152.23,272.55 152.74,274.96 153.25,277.36 153.77,279.71 154.28,282.02 154.79,284.26 155.30,286.43 155.82,288.51 156.33,290.50 156.84,292.39 157.35,294.18 157.87,295.86 158.38,297.44 158.89,298.91 159.40,300.28 159.92,301.54 160.43,302.71 160.94,303.78 161.45,304.76 161.97,305.66 162.48,306.48 162.99,307.23 163.50,307.91 164.02,308.52 164.53,309.08 165.04,309.58 165.55,310.03 166.07,310.44 166.58,310.81 167.09,311.14 167.60,311.44 168.11,311.71 168.63,311.95 169.14,312.16 169.65,312.36 170.16,312.53 170.68,312.68 171.19,312.82 171.70,312.95 172.21,313.06 172.73,313.16 173.24,313.25 173.75,313.32 174.26,313.40 174.78,313.46 175.29,313.51 175.80,313.57 176.31,313.61 176.83,313.65 177.34,313.69 177.85,313.72 178.36,313.75 178.88,313.77 179.39,313.79 179.90,313.82 180.41,313.83 180.93,313.85 181.44,313.86 181.95,313.88 182.46,313.89 182.98,313.90 183.49,313.91 184.00,313.92 184.51,313.92 185.03,313.93 185.54,313.94 186.05,313.94 186.56,313.95 187.08,313.95 187.59,313.95 188.10,313.96 188.61,313.96 189.13,313.96 189.64,313.96 190.15,313.97 190.66,313.97 191.17,313.97 191.69,313.97 192.20,313.97 192.71,313.97 193.22,313.97 193.74,313.98 194.25,313.98 194.76,313.98 195.27,313.98 195.79,313.98 196.30,313.98 196.81,313.98 197.32,313.98 197.84,313.98 198.35,313.98 198.86,313.98 199.37,313.98 199.89,313.98 200.40,313.98 200.91,313.98 201.42,313.98 201.94,313.98 202.45,313.98 202.96,313.98 203.47,313.98 203.99,313.98 204.50,313.98 205.01,313.98 205.52,313.98 206.04,313.98 206.55,313.98 207.06,313.98 207.57,313.98 208.09,313.98 208.60,313.98 209.11,313.98 209.62,313.98 210.14,313.98 210.65,313.98 211.16,313.98 211.67,313.98 212.19,313.98 212.70,313.98 213.21,313.98 213.72,313.98 214.23,313.98 214.75,313.98 215.26,313.98 215.77,313.98 216.28,313.98 216.80,313.98 217.31,313.98 217.82,313.98 218.33,313.98 218.85,313.98 219.36,313.98 219.87,313.98 220.38,313.98 220.90,313.98 221.41,313.98 221.92,313.98 222.43,313.98 222.95,313.98 223.46,313.98 223.97,313.98 224.48,313.98 225.00,313.98 225.51,313.98 226.02,313.98 226.53,313.98 227.05,313.98 227.56,313.98 228.07,313.98 228.58,313.98" fill="none" stroke="#3e9637" stroke-width="1.15" stroke-linejoin="round"/>
<path d="M74.85,235.38V226.16M72.35,235.38H77.35M72.35,226.16H77.35" stroke="#f0921c" stroke-width="0.85" fill="none"/>
<rect x="72.55" y="228.47" width="4.6" height="4.6" fill="#f0921c"/>
<rect x="117.09" y="232.07" width="4.6" height="4.6" fill="#f0921c"/>
<path d="M130.60,236.58V232.89M128.10,236.58H133.10M128.10,232.89H133.10" stroke="#f0921c" stroke-width="0.85" fill="none"/>
<rect x="128.30" y="232.43" width="4.6" height="4.6" fill="#f0921c"/>
<path d="M141.49,236.95V233.26M138.99,236.95H143.99M138.99,233.26H143.99" stroke="#f0921c" stroke-width="0.85" fill="none"/>
<rect x="139.19" y="232.80" width="4.6" height="4.6" fill="#f0921c"/>
<rect x="150.41" y="268.10" width="4.6" height="4.6" fill="#f0921c"/>
<rect x="160.96" y="296.75" width="4.6" height="4.6" fill="#f0921c"/>
<rect x="171.85" y="311.41" width="4.6" height="4.6" fill="#f0921c"/>
<rect x="183.07" y="311.68" width="4.6" height="4.6" fill="#f0921c"/>
<rect x="193.95" y="311.68" width="4.6" height="4.6" fill="#f0921c"/>
<rect x="204.67" y="311.68" width="4.6" height="4.6" fill="#f0921c"/>
<rect x="215.40" y="311.68" width="4.6" height="4.6" fill="#f0921c"/>
<rect x="226.28" y="311.68" width="4.6" height="4.6" fill="#f0921c"/>
<rect x="72.55" y="227.55" width="4.6" height="4.6" fill="#2e8f36"/>
<circle cx="119.39" cy="230.86" r="2.3" fill="#2e8f36"/>
<path d="M130.60,232.25V224.87M128.10,232.25H133.10M128.10,224.87H133.10" stroke="#2e8f36" stroke-width="0.85" fill="none"/>
<circle cx="130.60" cy="228.56" r="2.3" fill="#2e8f36"/>
<circle cx="141.49" cy="239.06" r="2.3" fill="#2e8f36"/>
<circle cx="152.71" cy="270.67" r="2.3" fill="#2e8f36"/>
<circle cx="163.26" cy="304.31" r="2.3" fill="#2e8f36"/>
<circle cx="174.15" cy="314.08" r="2.3" fill="#2e8f36"/>
<circle cx="185.37" cy="313.98" r="2.3" fill="#2e8f36"/>
<circle cx="196.25" cy="313.98" r="2.3" fill="#2e8f36"/>
<circle cx="206.97" cy="313.98" r="2.3" fill="#2e8f36"/>
<circle cx="217.70" cy="313.98" r="2.3" fill="#2e8f36"/>
<circle cx="228.58" cy="313.98" r="2.3" fill="#2e8f36"/>
<path d="M157.30,221.90H171.20" stroke="#3a7e3a" stroke-width="1.3"/>
<circle cx="164.25" cy="221.90" r="2.0" fill="#2e8f36"/>
<text x="175.20" y="225.10" font-size="9.0" fill="#1a1a1a">5-MTHF 100 nM</text>
<path d="M157.30,233.50H171.20" stroke="#d98a2c" stroke-width="1.3"/>
<rect x="162.10" y="231.35" width="4.3" height="4.3" fill="#f0921c"/>
<text x="175.20" y="236.70" font-size="9.0" fill="#1a1a1a">No 5-MTHF</text>
<text x="274.40" y="198.70" font-size="13.9" font-weight="bold" fill="#000">D</text>
<path d="M333.35,203.51V322.00" stroke="#0d0d0d" stroke-width="1.35" fill="none"/>
<path d="M329.45,321.80H509.80" stroke="#0d0d0d" stroke-width="1.35" fill="none"/>
<path d="M329.45,322.00H333.35" stroke="#0d0d0d" stroke-width="1.1"/>
<text x="326.70" y="325.55" font-size="10.4" text-anchor="end" fill="#1a1a1a">0.00</text>
<path d="M329.45,298.96H333.35" stroke="#0d0d0d" stroke-width="1.1"/>
<text x="326.70" y="302.51" font-size="10.4" text-anchor="end" fill="#1a1a1a">0.25</text>
<path d="M329.45,275.93H333.35" stroke="#0d0d0d" stroke-width="1.1"/>
<text x="326.70" y="279.48" font-size="10.4" text-anchor="end" fill="#1a1a1a">0.50</text>
<path d="M329.45,252.89H333.35" stroke="#0d0d0d" stroke-width="1.1"/>
<text x="326.70" y="256.44" font-size="10.4" text-anchor="end" fill="#1a1a1a">0.75</text>
<path d="M329.45,229.85H333.35" stroke="#0d0d0d" stroke-width="1.1"/>
<text x="326.70" y="233.40" font-size="10.4" text-anchor="end" fill="#1a1a1a">1.00</text>
<path d="M329.45,206.81H333.35" stroke="#0d0d0d" stroke-width="1.1"/>
<text x="326.70" y="210.36" font-size="10.4" text-anchor="end" fill="#1a1a1a">1.25</text>
<path d="M341.35,322.00V325.50" stroke="#0d0d0d" stroke-width="1.1"/>
<text x="341.65" y="338.80" font-size="10.4" text-anchor="middle" fill="#1a1a1a">−10</text>
<path d="M374.34,322.00V325.50" stroke="#0d0d0d" stroke-width="1.1"/>
<text x="374.64" y="338.80" font-size="10.4" text-anchor="middle" fill="#1a1a1a">−9</text>
<path d="M407.33,322.00V325.50" stroke="#0d0d0d" stroke-width="1.1"/>
<text x="407.63" y="338.80" font-size="10.4" text-anchor="middle" fill="#1a1a1a">−8</text>
<path d="M440.32,322.00V325.50" stroke="#0d0d0d" stroke-width="1.1"/>
<text x="440.62" y="338.80" font-size="10.4" text-anchor="middle" fill="#1a1a1a">−7</text>
<path d="M473.31,322.00V325.50" stroke="#0d0d0d" stroke-width="1.1"/>
<text x="473.61" y="338.80" font-size="10.4" text-anchor="middle" fill="#1a1a1a">−6</text>
<path d="M506.30,322.00V325.50" stroke="#0d0d0d" stroke-width="1.1"/>
<text x="506.60" y="338.80" font-size="10.4" text-anchor="middle" fill="#1a1a1a">−5</text>
<text x="421.58" y="353.30" font-size="10.3" text-anchor="middle" textLength="44.1" lengthAdjust="spacingAndGlyphs" fill="#1a1a1a" class="cond">log[MTX], M</text>
<text transform="translate(299.50,262.56) rotate(-90)" x="0" y="0" font-size="10.3" text-anchor="middle" textLength="56.3" lengthAdjust="spacingAndGlyphs" fill="#1a1a1a" class="cond">Relative viability</text>
<text x="336.90" y="312.20" font-size="9.9" fill="#1a1a1a" textLength="25.4" lengthAdjust="spacingAndGlyphs">Jurkat</text>
<polyline points="341.35,227.56 341.86,227.56 342.37,227.57 342.89,227.57 343.40,227.57 343.91,227.57 344.42,227.57 344.94,227.57 345.45,227.57 345.96,227.58 346.47,227.58 346.99,227.58 347.50,227.58 348.01,227.59 348.52,227.59 349.04,227.59 349.55,227.59 350.06,227.60 350.57,227.60 351.09,227.60 351.60,227.61 352.11,227.61 352.62,227.62 353.14,227.62 353.65,227.63 354.16,227.63 354.67,227.64 355.19,227.64 355.70,227.65 356.21,227.66 356.72,227.66 357.24,227.67 357.75,227.68 358.26,227.69 358.77,227.70 359.29,227.71 359.80,227.72 360.31,227.73 360.82,227.74 361.34,227.76 361.85,227.77 362.36,227.79 362.87,227.80 363.39,227.82 363.90,227.84 364.41,227.86 364.92,227.88 365.43,227.90 365.95,227.92 366.46,227.95 366.97,227.97 367.48,228.00 368.00,228.03 368.51,228.06 369.02,228.10 369.53,228.13 370.05,228.17 370.56,228.21 371.07,228.26 371.58,228.31 372.10,228.36 372.61,228.41 373.12,228.47 373.63,228.53 374.15,228.59 374.66,228.66 375.17,228.73 375.68,228.81 376.20,228.89 376.71,228.98 377.22,229.07 377.73,229.17 378.25,229.28 378.76,229.39 379.27,229.51 379.78,229.64 380.30,229.78 380.81,229.92 381.32,230.07 381.83,230.24 382.35,230.41 382.86,230.60 383.37,230.79 383.88,231.00 384.40,231.22 384.91,231.45 385.42,231.70 385.93,231.96 386.45,232.24 386.96,232.54 387.47,232.85 387.98,233.18 388.49,233.53 389.01,233.90 389.52,234.29 390.03,234.71 390.54,235.14 391.06,235.60 391.57,236.09 392.08,236.60 392.59,237.14 393.11,237.70 393.62,238.30 394.13,238.93 394.64,239.58 395.16,240.27 395.67,240.99 396.18,241.75 396.69,242.54 397.21,243.36 397.72,244.22 398.23,245.12 398.74,246.05 399.26,247.02 399.77,248.02 400.28,249.06 400.79,250.14 401.31,251.25 401.82,252.40 402.33,253.58 402.84,254.79 403.36,256.04 403.87,257.31 404.38,258.62 404.89,259.95 405.41,261.31 405.92,262.69 406.43,264.09 406.94,265.51 407.46,266.94 407.97,268.39 408.48,269.85 408.99,271.31 409.51,272.78 410.02,274.24 410.53,275.71 411.04,277.17 411.55,278.62 412.07,280.06 412.58,281.49 413.09,282.90 413.60,284.29 414.12,285.66 414.63,287.01 415.14,288.33 415.65,289.62 416.17,290.88 416.68,292.11 417.19,293.31 417.70,294.48 418.22,295.61 418.73,296.70 419.24,297.76 419.75,298.78 420.27,299.77 420.78,300.72 421.29,301.64 421.80,302.51 422.32,303.36 422.83,304.16 423.34,304.94 423.85,305.68 424.37,306.38 424.88,307.05 425.39,307.70 425.90,308.31 426.42,308.89 426.93,309.44 427.44,309.97 427.95,310.47 428.47,310.94 428.98,311.39 429.49,311.82 430.00,312.22 430.52,312.60 431.03,312.96 431.54,313.30 432.05,313.62 432.57,313.93 433.08,314.21 433.59,314.49 434.10,314.74 434.61,314.98 435.13,315.21 435.64,315.42 436.15,315.63 436.66,315.82 437.18,315.99 437.69,316.16 438.20,316.32 438.71,316.47 439.23,316.61 439.74,316.74 440.25,316.87 440.76,316.98 441.28,317.09 441.79,317.20 442.30,317.29 442.81,317.38 443.33,317.47 443.84,317.55 444.35,317.62 444.86,317.70 445.38,317.76 445.89,317.82 446.40,317.88 446.91,317.94 447.43,317.99 447.94,318.04 448.45,318.08 448.96,318.13 449.48,318.17 449.99,318.20 450.50,318.24 451.01,318.27 451.53,318.30 452.04,318.33 452.55,318.36 453.06,318.39 453.58,318.41 454.09,318.43 454.60,318.45 455.11,318.47 455.63,318.49 456.14,318.51 456.65,318.53 457.16,318.54 457.67,318.56 458.19,318.57 458.70,318.58 459.21,318.60 459.72,318.61 460.24,318.62 460.75,318.63 461.26,318.64 461.77,318.64 462.29,318.65 462.80,318.66 463.31,318.67 463.82,318.67 464.34,318.68 464.85,318.69 465.36,318.69 465.87,318.70 466.39,318.70 466.90,318.71 467.41,318.71 467.92,318.71 468.44,318.72 468.95,318.72 469.46,318.73 469.97,318.73 470.49,318.73 471.00,318.73 471.51,318.74 472.02,318.74 472.54,318.74 473.05,318.74 473.56,318.75 474.07,318.75 474.59,318.75 475.10,318.75 475.61,318.75 476.12,318.75 476.64,318.75 477.15,318.76 477.66,318.76 478.17,318.76 478.69,318.76 479.20,318.76 479.71,318.76 480.22,318.76 480.73,318.76 481.25,318.76 481.76,318.76 482.27,318.76 482.78,318.77 483.30,318.77 483.81,318.77 484.32,318.77 484.83,318.77 485.35,318.77 485.86,318.77 486.37,318.77 486.88,318.77 487.40,318.77 487.91,318.77 488.42,318.77 488.93,318.77 489.45,318.77 489.96,318.77 490.47,318.77 490.98,318.77 491.50,318.77 492.01,318.77 492.52,318.77 493.03,318.77 493.55,318.77 494.06,318.77 494.57,318.77 495.08,318.77" fill="none" stroke="#ec9a2a" stroke-width="1.15" stroke-linejoin="round"/>
<polyline points="341.35,226.17 341.86,226.17 342.37,226.17 342.89,226.17 343.40,226.18 343.91,226.18 344.42,226.18 344.94,226.18 345.45,226.18 345.96,226.18 346.47,226.18 346.99,226.18 347.50,226.18 348.01,226.19 348.52,226.19 349.04,226.19 349.55,226.19 350.06,226.19 350.57,226.19 351.09,226.20 351.60,226.20 352.11,226.20 352.62,226.20 353.14,226.21 353.65,226.21 354.16,226.21 354.67,226.21 355.19,226.22 355.70,226.22 356.21,226.23 356.72,226.23 357.24,226.24 357.75,226.24 358.26,226.25 358.77,226.25 359.29,226.26 359.80,226.26 360.31,226.27 360.82,226.28 361.34,226.29 361.85,226.30 362.36,226.30 362.87,226.31 363.39,226.33 363.90,226.34 364.41,226.35 364.92,226.36 365.43,226.38 365.95,226.39 366.46,226.41 366.97,226.42 367.48,226.44 368.00,226.46 368.51,226.48 369.02,226.50 369.53,226.53 370.05,226.55 370.56,226.58 371.07,226.61 371.58,226.64 372.10,226.67 372.61,226.71 373.12,226.75 373.63,226.79 374.15,226.83 374.66,226.88 375.17,226.93 375.68,226.98 376.20,227.04 376.71,227.10 377.22,227.16 377.73,227.23 378.25,227.31 378.76,227.39 379.27,227.47 379.78,227.56 380.30,227.66 380.81,227.76 381.32,227.87 381.83,227.99 382.35,228.12 382.86,228.25 383.37,228.39 383.88,228.55 384.40,228.71 384.91,228.88 385.42,229.07 385.93,229.27 386.45,229.48 386.96,229.70 387.47,229.94 387.98,230.19 388.49,230.46 389.01,230.75 389.52,231.05 390.03,231.38 390.54,231.72 391.06,232.09 391.57,232.48 392.08,232.89 392.59,233.33 393.11,233.79 393.62,234.28 394.13,234.79 394.64,235.34 395.16,235.92 395.67,236.53 396.18,237.17 396.69,237.85 397.21,238.56 397.72,239.31 398.23,240.09 398.74,240.91 399.26,241.78 399.77,242.68 400.28,243.62 400.79,244.60 401.31,245.63 401.82,246.69 402.33,247.80 402.84,248.95 403.36,250.14 403.87,251.36 404.38,252.63 404.89,253.93 405.41,255.27 405.92,256.64 406.43,258.05 406.94,259.48 407.46,260.95 407.97,262.43 408.48,263.94 408.99,265.47 409.51,267.02 410.02,268.58 410.53,270.14 411.04,271.71 411.55,273.29 412.07,274.86 412.58,276.42 413.09,277.98 413.60,279.52 414.12,281.05 414.63,282.56 415.14,284.05 415.65,285.51 416.17,286.95 416.68,288.35 417.19,289.72 417.70,291.06 418.22,292.36 418.73,293.62 419.24,294.85 419.75,296.04 420.27,297.18 420.78,298.29 421.29,299.35 421.80,300.37 422.32,301.35 422.83,302.30 423.34,303.20 423.85,304.06 424.37,304.88 424.88,305.66 425.39,306.41 425.90,307.12 426.42,307.79 426.93,308.43 427.44,309.04 427.95,309.62 428.47,310.16 428.98,310.68 429.49,311.17 430.00,311.63 430.52,312.07 431.03,312.48 431.54,312.86 432.05,313.23 432.57,313.57 433.08,313.90 433.59,314.20 434.10,314.49 434.61,314.76 435.13,315.01 435.64,315.25 436.15,315.47 436.66,315.68 437.18,315.88 437.69,316.06 438.20,316.24 438.71,316.40 439.23,316.55 439.74,316.69 440.25,316.83 440.76,316.95 441.28,317.07 441.79,317.18 442.30,317.28 442.81,317.38 443.33,317.47 443.84,317.56 444.35,317.63 444.86,317.71 445.38,317.78 445.89,317.84 446.40,317.90 446.91,317.96 447.43,318.01 447.94,318.06 448.45,318.11 448.96,318.15 449.48,318.19 449.99,318.23 450.50,318.27 451.01,318.30 451.53,318.33 452.04,318.36 452.55,318.39 453.06,318.41 453.58,318.44 454.09,318.46 454.60,318.48 455.11,318.50 455.63,318.52 456.14,318.53 456.65,318.55 457.16,318.56 457.67,318.58 458.19,318.59 458.70,318.60 459.21,318.61 459.72,318.62 460.24,318.63 460.75,318.64 461.26,318.65 461.77,318.66 462.29,318.67 462.80,318.67 463.31,318.68 463.82,318.69 464.34,318.69 464.85,318.70 465.36,318.70 465.87,318.71 466.39,318.71 466.90,318.72 467.41,318.72 467.92,318.72 468.44,318.73 468.95,318.73 469.46,318.73 469.97,318.74 470.49,318.74 471.00,318.74 471.51,318.74 472.02,318.75 472.54,318.75 473.05,318.75 473.56,318.75 474.07,318.75 474.59,318.75 475.10,318.76 475.61,318.76 476.12,318.76 476.64,318.76 477.15,318.76 477.66,318.76 478.17,318.76 478.69,318.76 479.20,318.76 479.71,318.76 480.22,318.76 480.73,318.77 481.25,318.77 481.76,318.77 482.27,318.77 482.78,318.77 483.30,318.77 483.81,318.77 484.32,318.77 484.83,318.77 485.35,318.77 485.86,318.77 486.37,318.77 486.88,318.77 487.40,318.77 487.91,318.77 488.42,318.77 488.93,318.77 489.45,318.77 489.96,318.77 490.47,318.77 490.98,318.77 491.50,318.77 492.01,318.77 492.52,318.77 493.03,318.77 493.55,318.77 494.06,318.77 494.57,318.77 495.08,318.77" fill="none" stroke="#3e9637" stroke-width="1.15" stroke-linejoin="round"/>
<rect x="339.05" y="228.01" width="4.6" height="4.6" fill="#f0921c"/>
<path d="M385.89,236.85V229.48M383.39,236.85H388.39M383.39,229.48H388.39" stroke="#f0921c" stroke-width="0.85" fill="none"/>
<rect x="383.59" y="230.87" width="4.6" height="4.6" fill="#f0921c"/>
<rect x="394.80" y="230.87" width="4.6" height="4.6" fill="#f0921c"/>
<rect x="405.69" y="279.52" width="4.6" height="4.6" fill="#f0921c"/>
<rect x="416.91" y="279.52" width="4.6" height="4.6" fill="#f0921c"/>
<rect x="427.46" y="313.25" width="4.6" height="4.6" fill="#f0921c"/>
<rect x="438.35" y="316.38" width="4.6" height="4.6" fill="#f0921c"/>
<rect x="449.57" y="316.47" width="4.6" height="4.6" fill="#f0921c"/>
<rect x="460.45" y="316.47" width="4.6" height="4.6" fill="#f0921c"/>
<rect x="471.17" y="316.47" width="4.6" height="4.6" fill="#f0921c"/>
<rect x="481.90" y="316.47" width="4.6" height="4.6" fill="#f0921c"/>
<rect x="492.78" y="316.47" width="4.6" height="4.6" fill="#f0921c"/>
<rect x="339.05" y="228.01" width="4.6" height="4.6" fill="#2e8f36"/>
<circle cx="385.89" cy="228.01" r="2.3" fill="#2e8f36"/>
<circle cx="397.10" cy="226.99" r="2.3" fill="#2e8f36"/>
<circle cx="407.99" cy="271.69" r="2.3" fill="#2e8f36"/>
<circle cx="419.21" cy="286.15" r="2.3" fill="#2e8f36"/>
<circle cx="429.76" cy="315.83" r="2.3" fill="#2e8f36"/>
<circle cx="440.65" cy="318.68" r="2.3" fill="#2e8f36"/>
<circle cx="451.87" cy="318.77" r="2.3" fill="#2e8f36"/>
<circle cx="462.75" cy="318.77" r="2.3" fill="#2e8f36"/>
<circle cx="473.47" cy="318.77" r="2.3" fill="#2e8f36"/>
<circle cx="484.20" cy="318.77" r="2.3" fill="#2e8f36"/>
<circle cx="495.08" cy="318.77" r="2.3" fill="#2e8f36"/>
<path d="M416.50,218.10H430.40" stroke="#3a7e3a" stroke-width="1.3"/>
<circle cx="423.45" cy="218.10" r="2.0" fill="#2e8f36"/>
<text x="434.00" y="221.30" font-size="9.0" fill="#1a1a1a">5-MTHF 100 nM</text>
<path d="M416.50,229.20H430.40" stroke="#d98a2c" stroke-width="1.3"/>
<rect x="421.30" y="227.05" width="4.3" height="4.3" fill="#f0921c"/>
<text x="434.00" y="232.40" font-size="9.0" fill="#1a1a1a">No 5-MTHF</text>
<text x="8.30" y="377.00" font-size="13.9" font-weight="bold" fill="#000">E</text>
<path d="M66.85,381.94V500.30" stroke="#0d0d0d" stroke-width="1.35" fill="none"/>
<path d="M62.95,500.10H243.30" stroke="#0d0d0d" stroke-width="1.35" fill="none"/>
<path d="M62.95,500.30H66.85" stroke="#0d0d0d" stroke-width="1.1"/>
<text x="60.20" y="503.85" font-size="10.4" text-anchor="end" fill="#1a1a1a">0.00</text>
<path d="M62.95,477.29H66.85" stroke="#0d0d0d" stroke-width="1.1"/>
<text x="60.20" y="480.84" font-size="10.4" text-anchor="end" fill="#1a1a1a">0.25</text>
<path d="M62.95,454.28H66.85" stroke="#0d0d0d" stroke-width="1.1"/>
<text x="60.20" y="457.83" font-size="10.4" text-anchor="end" fill="#1a1a1a">0.50</text>
<path d="M62.95,431.26H66.85" stroke="#0d0d0d" stroke-width="1.1"/>
<text x="60.20" y="434.81" font-size="10.4" text-anchor="end" fill="#1a1a1a">0.75</text>
<path d="M62.95,408.25H66.85" stroke="#0d0d0d" stroke-width="1.1"/>
<text x="60.20" y="411.80" font-size="10.4" text-anchor="end" fill="#1a1a1a">1.00</text>
<path d="M62.95,385.24H66.85" stroke="#0d0d0d" stroke-width="1.1"/>
<text x="60.20" y="388.79" font-size="10.4" text-anchor="end" fill="#1a1a1a">1.25</text>
<path d="M74.85,500.30V503.80" stroke="#0d0d0d" stroke-width="1.1"/>
<text x="75.15" y="517.30" font-size="10.4" text-anchor="middle" fill="#1a1a1a">−10</text>
<path d="M107.84,500.30V503.80" stroke="#0d0d0d" stroke-width="1.1"/>
<text x="108.14" y="517.30" font-size="10.4" text-anchor="middle" fill="#1a1a1a">−9</text>
<path d="M140.83,500.30V503.80" stroke="#0d0d0d" stroke-width="1.1"/>
<text x="141.13" y="517.30" font-size="10.4" text-anchor="middle" fill="#1a1a1a">−8</text>
<path d="M173.82,500.30V503.80" stroke="#0d0d0d" stroke-width="1.1"/>
<text x="174.12" y="517.30" font-size="10.4" text-anchor="middle" fill="#1a1a1a">−7</text>
<path d="M206.81,500.30V503.80" stroke="#0d0d0d" stroke-width="1.1"/>
<text x="207.11" y="517.30" font-size="10.4" text-anchor="middle" fill="#1a1a1a">−6</text>
<path d="M239.80,500.30V503.80" stroke="#0d0d0d" stroke-width="1.1"/>
<text x="240.10" y="517.30" font-size="10.4" text-anchor="middle" fill="#1a1a1a">−5</text>
<text x="155.07" y="531.80" font-size="10.3" text-anchor="middle" textLength="44.1" lengthAdjust="spacingAndGlyphs" fill="#1a1a1a" class="cond">log[MTX], M</text>
<text transform="translate(33.00,440.92) rotate(-90)" x="0" y="0" font-size="10.3" text-anchor="middle" textLength="56.3" lengthAdjust="spacingAndGlyphs" fill="#1a1a1a" class="cond">Relative viability</text>
<text x="70.60" y="492.80" font-size="10.4" fill="#1a1a1a" textLength="36.0" lengthAdjust="spacingAndGlyphs">NALM-6</text>
<polyline points="74.85,409.45 75.37,409.45 75.88,409.45 76.40,409.45 76.91,409.45 77.43,409.45 77.94,409.45 78.46,409.45 78.98,409.45 79.49,409.45 80.01,409.45 80.52,409.45 81.04,409.45 81.55,409.45 82.07,409.45 82.59,409.45 83.10,409.45 83.62,409.45 84.13,409.45 84.65,409.45 85.16,409.45 85.68,409.45 86.20,409.45 86.71,409.45 87.23,409.45 87.74,409.45 88.26,409.45 88.78,409.45 89.29,409.45 89.81,409.45 90.32,409.45 90.84,409.45 91.35,409.45 91.87,409.45 92.39,409.45 92.90,409.45 93.42,409.45 93.93,409.45 94.45,409.45 94.96,409.45 95.48,409.45 96.00,409.45 96.51,409.45 97.03,409.45 97.54,409.45 98.06,409.45 98.57,409.45 99.09,409.45 99.61,409.45 100.12,409.45 100.64,409.45 101.15,409.45 101.67,409.45 102.18,409.45 102.70,409.45 103.22,409.45 103.73,409.45 104.25,409.45 104.76,409.45 105.28,409.45 105.79,409.45 106.31,409.45 106.83,409.45 107.34,409.45 107.86,409.45 108.37,409.45 108.89,409.45 109.40,409.45 109.92,409.45 110.44,409.45 110.95,409.45 111.47,409.45 111.98,409.45 112.50,409.45 113.02,409.45 113.53,409.45 114.05,409.45 114.56,409.45 115.08,409.45 115.59,409.45 116.11,409.45 116.63,409.46 117.14,409.46 117.66,409.46 118.17,409.46 118.69,409.46 119.20,409.46 119.72,409.46 120.24,409.47 120.75,409.47 121.27,409.47 121.78,409.48 122.30,409.48 122.81,409.48 123.33,409.49 123.85,409.49 124.36,409.50 124.88,409.50 125.39,409.51 125.91,409.52 126.42,409.53 126.94,409.54 127.46,409.55 127.97,409.56 128.49,409.57 129.00,409.59 129.52,409.61 130.03,409.63 130.55,409.65 131.07,409.67 131.58,409.70 132.10,409.73 132.61,409.76 133.13,409.80 133.64,409.85 134.16,409.89 134.68,409.95 135.19,410.01 135.71,410.08 136.22,410.15 136.74,410.24 137.25,410.34 137.77,410.44 138.29,410.56 138.80,410.70 139.32,410.85 139.83,411.02 140.35,411.20 140.87,411.41 141.38,411.65 141.90,411.91 142.41,412.20 142.93,412.52 143.44,412.88 143.96,413.29 144.48,413.73 144.99,414.22 145.51,414.77 146.02,415.38 146.54,416.04 147.05,416.78 147.57,417.59 148.09,418.48 148.60,419.45 149.12,420.52 149.63,421.68 150.15,422.93 150.66,424.30 151.18,425.76 151.70,427.34 152.21,429.02 152.73,430.82 153.24,432.72 153.76,434.72 154.27,436.82 154.79,439.01 155.31,441.27 155.82,443.61 156.34,446.00 156.85,448.43 157.37,450.88 157.88,453.35 158.40,455.81 158.92,458.24 159.43,460.63 159.95,462.98 160.46,465.25 160.98,467.45 161.49,469.56 162.01,471.57 162.53,473.48 163.04,475.29 163.56,476.98 164.07,478.57 164.59,480.05 165.11,481.42 165.62,482.69 166.14,483.86 166.65,484.93 167.17,485.92 167.68,486.82 168.20,487.63 168.72,488.38 169.23,489.05 169.75,489.67 170.26,490.22 170.78,490.72 171.29,491.17 171.81,491.57 172.33,491.94 172.84,492.27 173.36,492.56 173.87,492.83 174.39,493.06 174.90,493.27 175.42,493.46 175.94,493.63 176.45,493.79 176.97,493.92 177.48,494.04 178.00,494.15 178.51,494.25 179.03,494.34 179.55,494.41 180.06,494.48 180.58,494.54 181.09,494.60 181.61,494.65 182.12,494.69 182.64,494.73 183.16,494.77 183.67,494.80 184.19,494.83 184.70,494.85 185.22,494.87 185.73,494.89 186.25,494.91 186.77,494.92 187.28,494.94 187.80,494.95 188.31,494.96 188.83,494.97 189.35,494.98 189.86,494.99 190.38,495.00 190.89,495.00 191.41,495.01 191.92,495.01 192.44,495.02 192.96,495.02 193.47,495.02 193.99,495.03 194.50,495.03 195.02,495.03 195.53,495.04 196.05,495.04 196.57,495.04 197.08,495.04 197.60,495.04 198.11,495.04 198.63,495.04 199.14,495.05 199.66,495.05 200.18,495.05 200.69,495.05 201.21,495.05 201.72,495.05 202.24,495.05 202.75,495.05 203.27,495.05 203.79,495.05 204.30,495.05 204.82,495.05 205.33,495.05 205.85,495.05 206.36,495.05 206.88,495.05 207.40,495.05 207.91,495.05 208.43,495.05 208.94,495.05 209.46,495.05 209.97,495.05 210.49,495.05 211.01,495.05 211.52,495.05 212.04,495.05 212.55,495.05 213.07,495.05 213.59,495.05 214.10,495.05 214.62,495.05 215.13,495.05 215.65,495.05 216.16,495.05 216.68,495.05 217.20,495.05 217.71,495.05 218.23,495.05 218.74,495.05 219.26,495.05 219.77,495.05 220.29,495.05 220.81,495.05 221.32,495.05 221.84,495.05 222.35,495.05 222.87,495.05 223.38,495.05 223.90,495.05 224.42,495.05 224.93,495.05 225.45,495.05 225.96,495.05 226.48,495.05 226.99,495.05 227.51,495.05 228.03,495.05 228.54,495.05 229.06,495.05 229.57,495.05" fill="none" stroke="#3b86c6" stroke-width="1.25" stroke-linejoin="round"/>
<path d="M74.85,410.46V405.86M72.35,410.46H77.35M72.35,405.86H77.35" stroke="#d81b7c" stroke-width="0.85" fill="none"/>
<rect x="72.55" y="405.86" width="4.6" height="4.6" fill="#d81b7c"/>
<path d="M120.38,413.04V401.99M117.88,413.04H122.88M117.88,401.99H122.88" stroke="#d81b7c" stroke-width="0.85" fill="none"/>
<rect x="118.08" y="405.21" width="4.6" height="4.6" fill="#d81b7c"/>
<rect x="128.30" y="408.53" width="4.6" height="4.6" fill="#d81b7c"/>
<rect x="138.53" y="412.03" width="4.6" height="4.6" fill="#d81b7c"/>
<rect x="151.40" y="433.75" width="4.6" height="4.6" fill="#d81b7c"/>
<rect x="160.96" y="474.99" width="4.6" height="4.6" fill="#d81b7c"/>
<rect x="171.52" y="492.20" width="4.6" height="4.6" fill="#d81b7c"/>
<rect x="184.06" y="492.94" width="4.6" height="4.6" fill="#d81b7c"/>
<rect x="194.28" y="492.94" width="4.6" height="4.6" fill="#d81b7c"/>
<rect x="204.51" y="492.94" width="4.6" height="4.6" fill="#d81b7c"/>
<rect x="217.38" y="492.94" width="4.6" height="4.6" fill="#d81b7c"/>
<rect x="227.27" y="492.94" width="4.6" height="4.6" fill="#d81b7c"/>
<rect x="73.15" y="406.46" width="3.4" height="3.4" fill="#3d9ad6"/>
<path d="M120.38,406.96V402.36M117.88,406.96H122.88M117.88,402.36H122.88" stroke="#3d9ad6" stroke-width="0.85" fill="none"/>
<circle cx="120.38" cy="404.66" r="2.3" fill="#3d9ad6"/>
<circle cx="130.60" cy="410.83" r="2.3" fill="#3d9ad6"/>
<path d="M140.83,423.07V410.18M138.33,423.07H143.33M138.33,410.18H143.33" stroke="#3d9ad6" stroke-width="0.85" fill="none"/>
<circle cx="140.83" cy="416.63" r="2.3" fill="#3d9ad6"/>
<circle cx="153.70" cy="436.05" r="2.3" fill="#3d9ad6"/>
<circle cx="163.26" cy="477.29" r="2.3" fill="#3d9ad6"/>
<circle cx="173.82" cy="492.75" r="2.3" fill="#3d9ad6"/>
<circle cx="186.36" cy="494.96" r="2.3" fill="#3d9ad6"/>
<circle cx="196.58" cy="494.96" r="2.3" fill="#3d9ad6"/>
<circle cx="206.81" cy="494.96" r="2.3" fill="#3d9ad6"/>
<circle cx="219.68" cy="494.96" r="2.3" fill="#3d9ad6"/>
<circle cx="229.57" cy="494.96" r="2.3" fill="#3d9ad6"/>
<path d="M152.30,394.00H166.20" stroke="#b8306e" stroke-width="1.3"/>
<rect x="157.10" y="391.85" width="4.3" height="4.3" fill="#d81b7c"/>
<text x="170.20" y="397.20" font-size="9.0" fill="#1a1a1a">5-MTHFA 100 nM</text>
<path d="M152.30,405.30H166.20" stroke="#3a7ab2" stroke-width="1.3"/>
<circle cx="159.25" cy="405.30" r="2.0" fill="#3d9ad6"/>
<text x="170.20" y="408.50" font-size="9.0" fill="#1a1a1a">No 5-MTHFA</text>
<text x="274.80" y="377.00" font-size="13.9" font-weight="bold" fill="#000">F</text>
<path d="M333.35,381.94V500.30" stroke="#0d0d0d" stroke-width="1.35" fill="none"/>
<path d="M329.45,500.10H509.80" stroke="#0d0d0d" stroke-width="1.35" fill="none"/>
<path d="M329.45,500.30H333.35" stroke="#0d0d0d" stroke-width="1.1"/>
<text x="326.70" y="503.85" font-size="10.4" text-anchor="end" fill="#1a1a1a">0.00</text>
<path d="M329.45,477.29H333.35" stroke="#0d0d0d" stroke-width="1.1"/>
<text x="326.70" y="480.84" font-size="10.4" text-anchor="end" fill="#1a1a1a">0.25</text>
<path d="M329.45,454.28H333.35" stroke="#0d0d0d" stroke-width="1.1"/>
<text x="326.70" y="457.83" font-size="10.4" text-anchor="end" fill="#1a1a1a">0.50</text>
<path d="M329.45,431.26H333.35" stroke="#0d0d0d" stroke-width="1.1"/>
<text x="326.70" y="434.81" font-size="10.4" text-anchor="end" fill="#1a1a1a">0.75</text>
<path d="M329.45,408.25H333.35" stroke="#0d0d0d" stroke-width="1.1"/>
<text x="326.70" y="411.80" font-size="10.4" text-anchor="end" fill="#1a1a1a">1.00</text>
<path d="M329.45,385.24H333.35" stroke="#0d0d0d" stroke-width="1.1"/>
<text x="326.70" y="388.79" font-size="10.4" text-anchor="end" fill="#1a1a1a">1.25</text>
<path d="M341.35,500.30V503.80" stroke="#0d0d0d" stroke-width="1.1"/>
<text x="341.65" y="517.30" font-size="10.4" text-anchor="middle" fill="#1a1a1a">−10</text>
<path d="M374.34,500.30V503.80" stroke="#0d0d0d" stroke-width="1.1"/>
<text x="374.64" y="517.30" font-size="10.4" text-anchor="middle" fill="#1a1a1a">−9</text>
<path d="M407.33,500.30V503.80" stroke="#0d0d0d" stroke-width="1.1"/>
<text x="407.63" y="517.30" font-size="10.4" text-anchor="middle" fill="#1a1a1a">−8</text>
<path d="M440.32,500.30V503.80" stroke="#0d0d0d" stroke-width="1.1"/>
<text x="440.62" y="517.30" font-size="10.4" text-anchor="middle" fill="#1a1a1a">−7</text>
<path d="M473.31,500.30V503.80" stroke="#0d0d0d" stroke-width="1.1"/>
<text x="473.61" y="517.30" font-size="10.4" text-anchor="middle" fill="#1a1a1a">−6</text>
<path d="M506.30,500.30V503.80" stroke="#0d0d0d" stroke-width="1.1"/>
<text x="506.60" y="517.30" font-size="10.4" text-anchor="middle" fill="#1a1a1a">−5</text>
<text x="421.58" y="531.80" font-size="10.3" text-anchor="middle" textLength="44.1" lengthAdjust="spacingAndGlyphs" fill="#1a1a1a" class="cond">log[MTX], M</text>
<text transform="translate(299.50,440.92) rotate(-90)" x="0" y="0" font-size="10.3" text-anchor="middle" textLength="56.3" lengthAdjust="spacingAndGlyphs" fill="#1a1a1a" class="cond">Relative viability</text>
<text x="336.90" y="492.90" font-size="9.9" fill="#1a1a1a" textLength="25.4" lengthAdjust="spacingAndGlyphs">Jurkat</text>
<polyline points="341.35,408.07 341.87,408.07 342.38,408.07 342.90,408.07 343.41,408.07 343.93,408.07 344.44,408.07 344.96,408.07 345.48,408.07 345.99,408.07 346.51,408.07 347.02,408.07 347.54,408.07 348.05,408.07 348.57,408.07 349.09,408.07 349.60,408.07 350.12,408.07 350.63,408.07 351.15,408.07 351.66,408.07 352.18,408.07 352.70,408.07 353.21,408.07 353.73,408.07 354.24,408.07 354.76,408.07 355.28,408.07 355.79,408.07 356.31,408.07 356.82,408.07 357.34,408.07 357.85,408.07 358.37,408.07 358.89,408.07 359.40,408.07 359.92,408.07 360.43,408.07 360.95,408.07 361.46,408.07 361.98,408.07 362.50,408.07 363.01,408.07 363.53,408.07 364.04,408.07 364.56,408.07 365.07,408.07 365.59,408.07 366.11,408.07 366.62,408.07 367.14,408.07 367.65,408.08 368.17,408.08 368.68,408.08 369.20,408.08 369.72,408.08 370.23,408.08 370.75,408.08 371.26,408.09 371.78,408.09 372.29,408.09 372.81,408.09 373.33,408.09 373.84,408.10 374.36,408.10 374.87,408.10 375.39,408.11 375.90,408.11 376.42,408.12 376.94,408.12 377.45,408.13 377.97,408.13 378.48,408.14 379.00,408.15 379.52,408.16 380.03,408.17 380.55,408.18 381.06,408.19 381.58,408.20 382.09,408.21 382.61,408.23 383.13,408.25 383.64,408.26 384.16,408.29 384.67,408.31 385.19,408.33 385.70,408.36 386.22,408.39 386.74,408.42 387.25,408.46 387.77,408.50 388.28,408.54 388.80,408.59 389.31,408.64 389.83,408.70 390.35,408.77 390.86,408.84 391.38,408.91 391.89,409.00 392.41,409.09 392.92,409.20 393.44,409.31 393.96,409.44 394.47,409.57 394.99,409.72 395.50,409.89 396.02,410.07 396.53,410.27 397.05,410.49 397.57,410.73 398.08,410.99 398.60,411.28 399.11,411.59 399.63,411.94 400.14,412.31 400.66,412.72 401.18,413.16 401.69,413.65 402.21,414.18 402.72,414.75 403.24,415.37 403.75,416.04 404.27,416.77 404.79,417.56 405.30,418.40 405.82,419.31 406.33,420.29 406.85,421.34 407.37,422.45 407.88,423.64 408.40,424.91 408.91,426.25 409.43,427.66 409.94,429.14 410.46,430.70 410.98,432.33 411.49,434.02 412.01,435.78 412.52,437.59 413.04,439.45 413.55,441.35 414.07,443.29 414.59,445.25 415.10,447.24 415.62,449.23 416.13,451.22 416.65,453.20 417.16,455.16 417.68,457.09 418.20,458.99 418.71,460.84 419.23,462.65 419.74,464.39 420.26,466.07 420.77,467.69 421.29,469.24 421.81,470.71 422.32,472.11 422.84,473.44 423.35,474.69 423.87,475.87 424.38,476.98 424.90,478.01 425.42,478.98 425.93,479.88 426.45,480.72 426.96,481.49 427.48,482.21 427.99,482.88 428.51,483.49 429.03,484.06 429.54,484.58 430.06,485.06 430.57,485.49 431.09,485.90 431.61,486.27 432.12,486.61 432.64,486.92 433.15,487.20 433.67,487.46 434.18,487.69 434.70,487.91 435.22,488.11 435.73,488.28 436.25,488.45 436.76,488.60 437.28,488.73 437.79,488.85 438.31,488.97 438.83,489.07 439.34,489.16 439.86,489.25 440.37,489.32 440.89,489.39 441.40,489.46 441.92,489.51 442.44,489.57 442.95,489.61 443.47,489.66 443.98,489.70 444.50,489.73 445.01,489.76 445.53,489.79 446.05,489.82 446.56,489.84 447.08,489.87 447.59,489.89 448.11,489.90 448.62,489.92 449.14,489.94 449.66,489.95 450.17,489.96 450.69,489.97 451.20,489.98 451.72,489.99 452.23,490.00 452.75,490.01 453.27,490.02 453.78,490.02 454.30,490.03 454.81,490.03 455.33,490.04 455.85,490.04 456.36,490.04 456.88,490.05 457.39,490.05 457.91,490.05 458.42,490.06 458.94,490.06 459.46,490.06 459.97,490.06 460.49,490.07 461.00,490.07 461.52,490.07 462.03,490.07 462.55,490.07 463.07,490.07 463.58,490.07 464.10,490.07 464.61,490.07 465.13,490.08 465.64,490.08 466.16,490.08 466.68,490.08 467.19,490.08 467.71,490.08 468.22,490.08 468.74,490.08 469.25,490.08 469.77,490.08 470.29,490.08 470.80,490.08 471.32,490.08 471.83,490.08 472.35,490.08 472.86,490.08 473.38,490.08 473.90,490.08 474.41,490.08 474.93,490.08 475.44,490.08 475.96,490.08 476.47,490.08 476.99,490.08 477.51,490.08 478.02,490.08 478.54,490.08 479.05,490.08 479.57,490.08 480.09,490.08 480.60,490.08 481.12,490.08 481.63,490.08 482.15,490.08 482.66,490.08 483.18,490.08 483.70,490.08 484.21,490.08 484.73,490.08 485.24,490.08 485.76,490.08 486.27,490.08 486.79,490.08 487.31,490.08 487.82,490.08 488.34,490.08 488.85,490.08 489.37,490.08 489.88,490.08 490.40,490.08 490.92,490.08 491.43,490.08 491.95,490.08 492.46,490.08 492.98,490.08 493.49,490.08 494.01,490.08 494.53,490.08 495.04,490.08 495.56,490.08 496.07,490.08" fill="none" stroke="#d0287e" stroke-width="1.15" stroke-linejoin="round"/>
<polyline points="341.35,400.52 341.87,400.52 342.38,400.52 342.90,400.52 343.41,400.52 343.93,400.52 344.44,400.52 344.96,400.52 345.48,400.52 345.99,400.52 346.51,400.52 347.02,400.52 347.54,400.52 348.05,400.52 348.57,400.52 349.09,400.52 349.60,400.52 350.12,400.52 350.63,400.52 351.15,400.52 351.66,400.52 352.18,400.52 352.70,400.52 353.21,400.52 353.73,400.52 354.24,400.52 354.76,400.52 355.28,400.52 355.79,400.52 356.31,400.52 356.82,400.52 357.34,400.52 357.85,400.52 358.37,400.52 358.89,400.52 359.40,400.52 359.92,400.52 360.43,400.52 360.95,400.52 361.46,400.52 361.98,400.52 362.50,400.52 363.01,400.52 363.53,400.52 364.04,400.52 364.56,400.53 365.07,400.53 365.59,400.53 366.11,400.53 366.62,400.53 367.14,400.53 367.65,400.53 368.17,400.53 368.68,400.53 369.20,400.54 369.72,400.54 370.23,400.54 370.75,400.54 371.26,400.54 371.78,400.55 372.29,400.55 372.81,400.55 373.33,400.56 373.84,400.56 374.36,400.56 374.87,400.57 375.39,400.57 375.90,400.58 376.42,400.59 376.94,400.59 377.45,400.60 377.97,400.61 378.48,400.62 379.00,400.63 379.52,400.64 380.03,400.65 380.55,400.67 381.06,400.68 381.58,400.70 382.09,400.72 382.61,400.74 383.13,400.76 383.64,400.79 384.16,400.82 384.67,400.85 385.19,400.88 385.70,400.92 386.22,400.96 386.74,401.00 387.25,401.05 387.77,401.10 388.28,401.16 388.80,401.23 389.31,401.30 389.83,401.38 390.35,401.47 390.86,401.56 391.38,401.67 391.89,401.78 392.41,401.91 392.92,402.05 393.44,402.20 393.96,402.37 394.47,402.56 394.99,402.76 395.50,402.98 396.02,403.22 396.53,403.49 397.05,403.78 397.57,404.10 398.08,404.45 398.60,404.84 399.11,405.25 399.63,405.71 400.14,406.20 400.66,406.74 401.18,407.33 401.69,407.97 402.21,408.66 402.72,409.40 403.24,410.21 403.75,411.08 404.27,412.02 404.79,413.03 405.30,414.11 405.82,415.26 406.33,416.50 406.85,417.81 407.37,419.20 407.88,420.67 408.40,422.23 408.91,423.86 409.43,425.57 409.94,427.35 410.46,429.20 410.98,431.11 411.49,433.09 412.01,435.11 412.52,437.18 413.04,439.28 413.55,441.41 414.07,443.55 414.59,445.70 415.10,447.85 415.62,449.98 416.13,452.08 416.65,454.15 417.16,456.18 417.68,458.16 418.20,460.08 418.71,461.94 419.23,463.73 419.74,465.45 420.26,467.09 420.77,468.65 421.29,470.13 421.81,471.53 422.32,472.85 422.84,474.10 423.35,475.26 423.87,476.35 424.38,477.37 424.90,478.31 425.42,479.19 425.93,480.00 426.45,480.76 426.96,481.45 427.48,482.10 427.99,482.69 428.51,483.23 429.03,483.73 429.54,484.19 430.06,484.62 430.57,485.00 431.09,485.35 431.61,485.68 432.12,485.97 432.64,486.24 433.15,486.49 433.67,486.71 434.18,486.92 434.70,487.10 435.22,487.27 435.73,487.43 436.25,487.57 436.76,487.70 437.28,487.82 437.79,487.92 438.31,488.02 438.83,488.11 439.34,488.19 439.86,488.26 440.37,488.33 440.89,488.39 441.40,488.44 441.92,488.49 442.44,488.53 442.95,488.58 443.47,488.61 443.98,488.65 444.50,488.68 445.01,488.70 445.53,488.73 446.05,488.75 446.56,488.77 447.08,488.79 447.59,488.81 448.11,488.83 448.62,488.84 449.14,488.85 449.66,488.86 450.17,488.87 450.69,488.88 451.20,488.89 451.72,488.90 452.23,488.91 452.75,488.91 453.27,488.92 453.78,488.93 454.30,488.93 454.81,488.93 455.33,488.94 455.85,488.94 456.36,488.95 456.88,488.95 457.39,488.95 457.91,488.95 458.42,488.96 458.94,488.96 459.46,488.96 459.97,488.96 460.49,488.96 461.00,488.96 461.52,488.97 462.03,488.97 462.55,488.97 463.07,488.97 463.58,488.97 464.10,488.97 464.61,488.97 465.13,488.97 465.64,488.97 466.16,488.97 466.68,488.97 467.19,488.97 467.71,488.97 468.22,488.97 468.74,488.97 469.25,488.98 469.77,488.98 470.29,488.98 470.80,488.98 471.32,488.98 471.83,488.98 472.35,488.98 472.86,488.98 473.38,488.98 473.90,488.98 474.41,488.98 474.93,488.98 475.44,488.98 475.96,488.98 476.47,488.98 476.99,488.98 477.51,488.98 478.02,488.98 478.54,488.98 479.05,488.98 479.57,488.98 480.09,488.98 480.60,488.98 481.12,488.98 481.63,488.98 482.15,488.98 482.66,488.98 483.18,488.98 483.70,488.98 484.21,488.98 484.73,488.98 485.24,488.98 485.76,488.98 486.27,488.98 486.79,488.98 487.31,488.98 487.82,488.98 488.34,488.98 488.85,488.98 489.37,488.98 489.88,488.98 490.40,488.98 490.92,488.98 491.43,488.98 491.95,488.98 492.46,488.98 492.98,488.98 493.49,488.98 494.01,488.98 494.53,488.98 495.04,488.98 495.56,488.98 496.07,488.98" fill="none" stroke="#3f8dcc" stroke-width="1.15" stroke-linejoin="round"/>
<path d="M341.35,430.53V385.61M338.85,430.53H343.85M338.85,385.61H343.85" stroke="#3d9ad6" stroke-width="0.85" fill="none"/>
<path d="M386.88,412.67V383.74M384.38,412.67H389.38" stroke="#3d9ad6" stroke-width="0.85" fill="none"/>
<path d="M407.33,438.99V418.93M404.83,438.99H409.83M404.83,418.93H409.83" stroke="#3d9ad6" stroke-width="0.85" fill="none"/>
<path d="M420.20,464.86V461.18M417.70,464.86H422.70M417.70,461.18H422.70" stroke="#3d9ad6" stroke-width="0.85" fill="none"/>
<path d="M429.76,484.74V476.83M427.26,484.74H432.26M427.26,476.83H432.26" stroke="#3d9ad6" stroke-width="0.85" fill="none"/>
<rect x="339.05" y="405.95" width="4.6" height="4.6" fill="#d81b7c"/>
<path d="M386.88,417.46V401.62M384.38,417.46H389.38M384.38,401.62H389.38" stroke="#d81b7c" stroke-width="0.85" fill="none"/>
<rect x="384.58" y="407.24" width="4.6" height="4.6" fill="#d81b7c"/>
<rect x="394.80" y="407.05" width="4.6" height="4.6" fill="#d81b7c"/>
<rect x="405.03" y="421.14" width="4.6" height="4.6" fill="#d81b7c"/>
<rect x="417.90" y="464.40" width="4.6" height="4.6" fill="#d81b7c"/>
<rect x="427.46" y="481.15" width="4.6" height="4.6" fill="#d81b7c"/>
<rect x="438.02" y="485.11" width="4.6" height="4.6" fill="#d81b7c"/>
<rect x="450.56" y="486.49" width="4.6" height="4.6" fill="#d81b7c"/>
<rect x="460.78" y="487.69" width="4.6" height="4.6" fill="#d81b7c"/>
<rect x="471.01" y="488.98" width="4.6" height="4.6" fill="#d81b7c"/>
<rect x="483.88" y="489.35" width="4.6" height="4.6" fill="#d81b7c"/>
<rect x="493.77" y="490.08" width="4.6" height="4.6" fill="#d81b7c"/>
<rect x="339.05" y="405.77" width="4.6" height="4.6" fill="#3d9ad6"/>
<circle cx="386.88" cy="397.94" r="2.3" fill="#3d9ad6"/>
<rect x="395.00" y="398.23" width="4.2" height="4.2" fill="#3d9ad6"/>
<circle cx="407.33" cy="428.96" r="2.3" fill="#3d9ad6"/>
<circle cx="420.20" cy="463.02" r="2.3" fill="#3d9ad6"/>
<circle cx="429.76" cy="480.79" r="2.3" fill="#3d9ad6"/>
<circle cx="440.32" cy="484.56" r="2.3" fill="#3d9ad6"/>
<circle cx="452.86" cy="488.33" r="2.3" fill="#3d9ad6"/>
<circle cx="463.08" cy="489.44" r="2.3" fill="#3d9ad6"/>
<circle cx="473.31" cy="488.98" r="2.3" fill="#3d9ad6"/>
<circle cx="486.18" cy="489.44" r="2.3" fill="#3d9ad6"/>
<circle cx="496.07" cy="489.44" r="2.3" fill="#3d9ad6"/>
<path d="M411.90,392.50H426.30" stroke="#b8306e" stroke-width="1.3"/>
<rect x="416.95" y="390.35" width="4.3" height="4.3" fill="#d81b7c"/>
<text x="429.60" y="395.70" font-size="9.0" fill="#1a1a1a">5-MTHFA 100 nM</text>
<path d="M411.90,403.50H426.30" stroke="#3a7ab2" stroke-width="1.3"/>
<circle cx="419.10" cy="403.50" r="2.0" fill="#3d9ad6"/>
<text x="429.60" y="406.70" font-size="9.0" fill="#1a1a1a">No 5-MTHFA</text>
<rect x="0.5" y="0.5" width="519" height="542" fill="none" stroke="#4a4a4a" stroke-width="1"/>
</svg>
</body></html>
